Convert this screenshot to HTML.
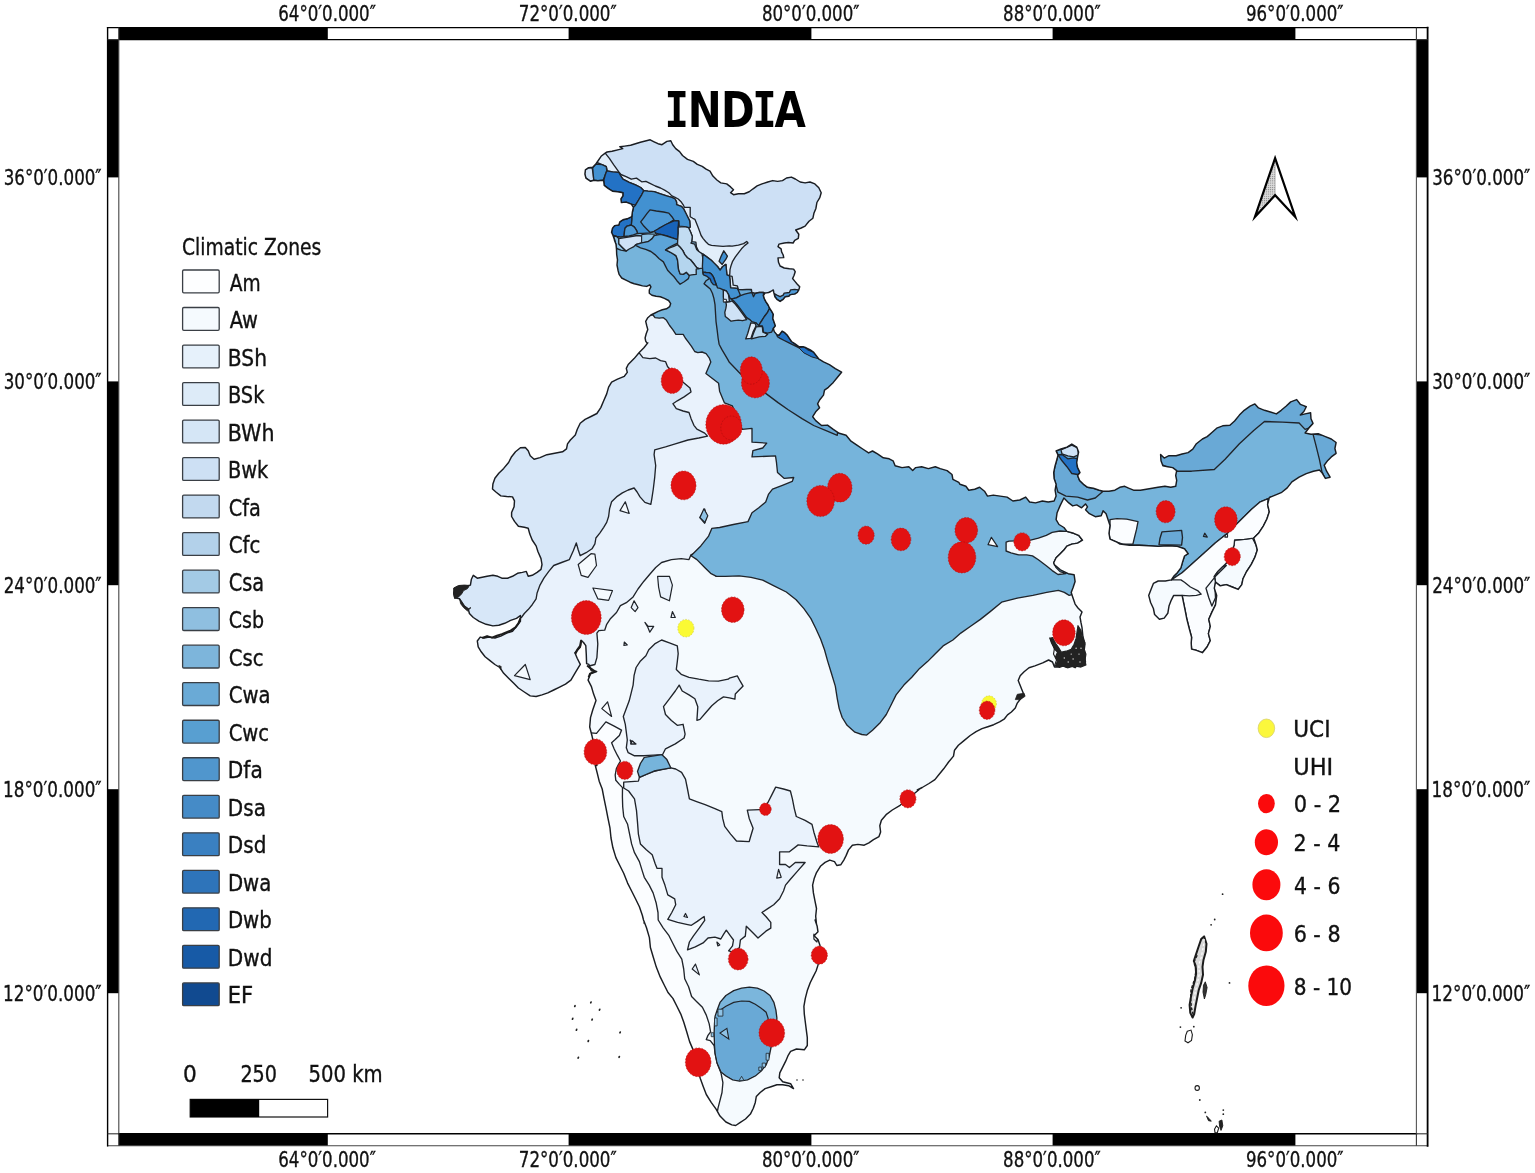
<!DOCTYPE html>
<html lang="en">
<head>
<meta charset="utf-8">
<title>India – Climatic Zones, UHI and UCI</title>
<style>
html,body{margin:0;padding:0;background:#fff;}
body{width:1535px;height:1173px;overflow:hidden;}
svg{display:block;font-family:'DejaVu Sans Condensed','DejaVu Sans','Liberation Sans',sans-serif;}
text{fill:#111;stroke:#111;stroke-width:0.3px;}
</style>
</head>
<body>
<svg width="1535" height="1173" viewBox="0 0 1535 1173">
<rect width="1535" height="1173" fill="#fff"/>
<g id="frame">
<rect x="107.6" y="27.6" width="1320.0" height="1118.2" fill="#fff"/>
<rect x="118.8" y="27.6" width="209.0" height="12.0" fill="#000"/>
<rect x="118.8" y="1133.8" width="209.0" height="12.0" fill="#000"/>
<rect x="568.6" y="27.6" width="242.8" height="12.0" fill="#000"/>
<rect x="568.6" y="1133.8" width="242.8" height="12.0" fill="#000"/>
<rect x="1052.6" y="27.6" width="242.8" height="12.0" fill="#000"/>
<rect x="1052.6" y="1133.8" width="242.8" height="12.0" fill="#000"/>
<rect x="107.6" y="39.6" width="11.2" height="137.8" fill="#000"/>
<rect x="1416.4" y="39.6" width="11.2" height="137.8" fill="#000"/>
<rect x="107.6" y="381.4" width="11.2" height="203.8" fill="#000"/>
<rect x="1416.4" y="381.4" width="11.2" height="203.8" fill="#000"/>
<rect x="107.6" y="789.2" width="11.2" height="204.0" fill="#000"/>
<rect x="1416.4" y="789.2" width="11.2" height="204.0" fill="#000"/>
<line x1="107.6" y1="27.6" x2="1427.6" y2="27.6" stroke="#000" stroke-width="1.4" stroke-linecap="square"/>
<line x1="118.8" y1="39.6" x2="1416.4" y2="39.6" stroke="#000" stroke-width="1.3" stroke-linecap="square"/>
<line x1="118.8" y1="1133.8" x2="1416.4" y2="1133.8" stroke="#000" stroke-width="1.6" stroke-linecap="square"/>
<line x1="107.6" y1="1145.8" x2="1427.6" y2="1145.8" stroke="#444" stroke-width="1.1" stroke-linecap="square"/>
<line x1="107.6" y1="27.6" x2="107.6" y2="1145.8" stroke="#000" stroke-width="1.4" stroke-linecap="square"/>
<line x1="118.8" y1="39.6" x2="118.8" y2="1133.8" stroke="#444" stroke-width="1.1" stroke-linecap="square"/>
<line x1="1416.4" y1="39.6" x2="1416.4" y2="1133.8" stroke="#555" stroke-width="1.1" stroke-linecap="square"/>
<line x1="1427.6" y1="27.6" x2="1427.6" y2="1145.8" stroke="#000" stroke-width="1.8" stroke-linecap="square"/>
<line x1="118.8" y1="27.6" x2="118.8" y2="39.6" stroke="#333" stroke-width="1.1"/>
<line x1="1416.4" y1="27.6" x2="1416.4" y2="39.6" stroke="#333" stroke-width="1.1"/>
<line x1="118.8" y1="1133.8" x2="118.8" y2="1145.8" stroke="#333" stroke-width="1.1"/>
<line x1="1416.4" y1="1133.8" x2="1416.4" y2="1145.8" stroke="#333" stroke-width="1.1"/>
<line x1="107.6" y1="39.6" x2="118.8" y2="39.6" stroke="#333" stroke-width="1.1"/>
<line x1="1416.4" y1="39.6" x2="1427.6" y2="39.6" stroke="#333" stroke-width="1.1"/>
<line x1="107.6" y1="1133.8" x2="118.8" y2="1133.8" stroke="#333" stroke-width="1.1"/>
<line x1="1416.4" y1="1133.8" x2="1427.6" y2="1133.8" stroke="#333" stroke-width="1.1"/>
</g>
<g id="map">
<defs><clipPath id="india"><path d="M588.6,167.7 L592.7,167.2 L595.8,164.1 L596.9,162.5 L601.1,156.3 L605.2,153.1 L607.1,152.0 L612.0,151.2 L618.8,149.6 L622.7,148.6 L619.8,146.7 L624.7,146.1 L630.6,145.3 L635.5,143.7 L640.4,142.2 L646.3,140.8 L650.2,139.8 L654.1,141.8 L658.0,143.7 L662.0,144.7 L666.9,141.4 L670.8,140.8 L672.7,144.7 L675.7,148.6 L679.6,151.6 L682.5,155.5 L687.5,159.4 L693.3,161.4 L697.3,164.3 L702.2,166.3 L706.1,169.2 L710.0,171.2 L712.9,176.1 L716.9,180.0 L720.8,182.9 L726.7,183.9 L730.6,186.9 L733.5,189.8 L730.6,192.7 L733.5,194.7 L738.4,193.7 L744.3,193.7 L749.2,191.8 L753.1,188.8 L757.1,185.9 L762.0,183.9 L767.8,182.0 L772.7,180.6 L777.6,181.4 L782.5,180.6 L786.5,178.0 L791.4,177.1 L795.3,179.0 L800.2,182.0 L805.1,182.9 L810.0,182.0 L814.9,183.9 L818.8,187.8 L821.2,192.7 L819.8,197.6 L816.9,202.5 L815.9,208.4 L813.9,213.3 L812.9,218.2 L809.0,221.2 L805.1,226.1 L801.2,228.0 L795.7,230.0 L798.8,234.2 L798.3,238.3 L794.7,240.4 L793.1,243.0 L788.4,242.5 L784.2,243.0 L779.0,244.1 L778.0,246.7 L781.1,248.8 L781.6,251.9 L783.2,255.0 L783.7,257.6 L778.0,257.9 L778.5,262.3 L780.1,266.0 L784.2,268.0 L789.4,268.8 L793.6,269.1 L795.2,271.7 L794.1,275.3 L792.6,278.5 L794.7,281.1 L797.3,284.2 L799.7,286.8 L798.8,289.9 L797.3,292.5 L794.7,294.1 L790.5,294.6 L788.9,296.2 L785.3,296.7 L783.2,299.3 L780.1,301.4 L776.9,299.3 L774.9,296.7 L773.8,292.5 L773.3,289.9 L770.7,291.5 L768.6,292.5 L764.9,293.1 L763.4,295.7 L764.4,298.8 L766.0,301.9 L768.1,305.0 L769.6,308.2 L771.7,311.3 L773.3,314.4 L772.8,318.6 L774.3,322.8 L775.4,325.9 L773.3,328.5 L774.3,331.6 L776.9,334.8 L779.0,335.3 L782.1,331.1 L784.8,332.7 L787.4,335.3 L789.4,338.4 L791.5,341.5 L794.7,343.6 L798.8,346.7 L803.0,346.7 L806.1,347.8 L810.3,349.9 L813.4,352.0 L818.6,358.8 L823.5,361.8 L829.4,364.7 L835.3,368.6 L841.6,372.2 L837.3,377.5 L833.3,382.4 L828.4,387.3 L824.5,390.2 L823.5,395.1 L819.6,400.0 L817.6,403.9 L819.6,407.8 L815.7,411.8 L812.7,416.7 L815.7,420.6 L821.6,425.5 L827.5,425.1 L833.3,429.4 L839.2,433.3 L846.1,435.3 L851.0,441.2 L856.9,445.1 L862.7,449.0 L868.6,452.9 L872.5,451.0 L877.5,453.9 L883.3,457.8 L889.2,458.8 L893.1,460.8 L895.1,465.7 L902.0,467.6 L908.8,466.7 L912.7,470.6 L915.7,467.6 L921.6,466.7 L928.4,468.6 L935.3,466.7 L940.2,468.6 L947.1,470.6 L952.0,474.5 L952.9,479.4 L958.8,482.4 L960.0,484.3 L965.9,486.3 L968.8,490.2 L974.7,489.2 L979.6,487.3 L984.5,491.2 L987.5,496.1 L993.3,495.1 L1000.2,496.1 L1007.1,497.1 L1012.9,501.0 L1019.8,500.0 L1025.7,497.1 L1029.6,502.0 L1035.5,502.9 L1042.4,501.0 L1048.2,502.0 L1054.1,501.0 L1056.1,496.1 L1055.1,490.2 L1056.1,484.3 L1054.1,478.4 L1053.7,472.5 L1055.1,465.7 L1057.1,458.8 L1058.0,454.9 L1056.1,451.0 L1061.0,449.0 L1066.9,447.1 L1071.8,444.1 L1076.7,447.1 L1078.6,452.0 L1077.6,456.9 L1076.7,462.7 L1077.6,467.6 L1080.0,472.5 L1077.6,475.5 L1079.6,480.4 L1083.5,484.3 L1087.5,487.3 L1093.3,488.2 L1099.2,490.2 L1103.1,491.2 L1109.0,491.2 L1114.9,490.2 L1119.8,487.3 L1124.7,486.3 L1128.6,488.2 L1133.5,490.2 L1140.4,490.2 L1146.3,489.2 L1152.2,488.2 L1158.0,487.3 L1164.9,486.3 L1170.8,487.3 L1175.7,486.3 L1176.7,480.4 L1175.7,475.5 L1176.7,470.6 L1172.7,467.6 L1167.8,466.7 L1162.9,465.7 L1161.0,460.8 L1160.6,454.5 L1164.2,458.1 L1169.0,455.7 L1176.1,455.7 L1182.1,454.0 L1188.1,452.6 L1192.8,449.2 L1196.4,443.7 L1202.4,439.0 L1207.2,436.6 L1211.9,432.5 L1216.7,428.2 L1222.7,425.8 L1229.9,425.3 L1234.6,421.0 L1239.4,415.1 L1244.2,410.3 L1250.1,406.2 L1254.9,403.9 L1258.5,407.9 L1264.5,410.3 L1270.4,412.0 L1276.4,413.9 L1281.2,410.3 L1286.0,406.2 L1290.7,401.9 L1296.7,399.6 L1300.3,404.3 L1306.3,406.7 L1303.9,411.5 L1300.3,415.1 L1305.1,413.9 L1310.6,412.7 L1311.0,418.7 L1313.0,423.4 L1308.7,428.2 L1305.1,433.0 L1311.0,434.2 L1318.2,433.7 L1325.4,436.6 L1331.3,439.0 L1336.1,442.5 L1334.9,448.5 L1336.1,453.3 L1331.3,456.9 L1327.8,460.4 L1324.2,465.2 L1326.6,471.2 L1330.1,477.2 L1325.4,478.4 L1321.8,472.4 L1319.4,470.0 L1313.4,471.2 L1306.3,473.6 L1299.1,477.2 L1291.9,481.9 L1287.2,487.9 L1281.2,492.7 L1275.2,495.1 L1269.3,497.5 L1267.6,504.6 L1269.3,511.8 L1266.9,519.0 L1263.3,526.1 L1258.5,533.3 L1253.7,538.1 L1256.1,545.2 L1257.3,550.0 L1254.9,557.2 L1251.3,564.3 L1246.6,571.5 L1243.0,578.7 L1241.8,584.6 L1238.2,589.4 L1232.2,587.0 L1226.3,584.6 L1220.3,585.8 L1215.5,582.2 L1214.3,588.2 L1216.7,595.4 L1215.5,604.9 L1211.9,612.1 L1208.8,619.3 L1210.3,626.4 L1208.4,633.6 L1210.3,640.7 L1207.2,646.7 L1202.4,652.7 L1196.4,650.3 L1191.6,649.1 L1191.2,643.1 L1191.6,637.2 L1189.3,628.8 L1186.9,619.3 L1185.0,609.7 L1183.3,601.3 L1182.1,595.4 L1173.7,595.4 L1171.3,600.1 L1169.0,606.1 L1167.8,613.3 L1164.2,618.1 L1159.4,619.3 L1154.6,614.5 L1153.4,608.5 L1150.6,602.5 L1148.7,595.4 L1151.0,589.4 L1153.4,583.4 L1158.2,581.0 L1165.4,581.0 L1171.3,579.9 L1173.7,576.3 L1177.3,572.7 L1180.9,567.9 L1182.6,561.9 L1184.5,556.0 L1188.1,553.6 L1184.5,548.8 L1177.3,546.4 L1167.8,545.7 L1158.2,546.4 L1148.7,545.7 L1139.1,545.2 L1129.6,545.2 L1120.0,544.0 L1116.9,542.2 L1110.0,539.2 L1109.0,533.3 L1110.0,525.5 L1108.0,519.6 L1106.1,513.7 L1103.1,510.8 L1101.2,515.7 L1095.3,516.7 L1089.4,513.7 L1085.5,509.8 L1087.5,506.9 L1085.5,503.9 L1081.6,507.8 L1076.7,504.9 L1072.7,505.9 L1068.8,502.9 L1063.9,498.0 L1060.0,505.9 L1057.1,512.7 L1056.1,519.6 L1059.0,524.5 L1063.9,527.5 L1066.9,531.4 L1073.7,533.3 L1078.6,535.3 L1082.5,540.2 L1077.6,543.1 L1071.8,544.1 L1066.9,546.1 L1063.9,550.0 L1060.0,553.9 L1056.1,557.8 L1053.7,562.7 L1054.5,564.9 L1060.4,569.8 L1068.2,573.7 L1074.1,574.7 L1075.1,581.6 L1073.1,587.5 L1071.2,592.4 L1073.1,598.2 L1075.1,604.1 L1078.0,608.0 L1082.0,612.0 L1080.0,616.9 L1081.0,622.7 L1082.0,627.6 L1082.9,636.5 L1084.9,644.3 L1083.9,652.2 L1085.5,662.0 L1080.0,666.9 L1074.1,665.9 L1068.2,667.5 L1062.4,665.9 L1057.5,666.9 L1054.5,666.9 L1052.5,662.0 L1048.6,660.0 L1042.7,662.9 L1034.9,665.9 L1029.0,667.8 L1024.1,671.8 L1020.2,675.7 L1018.2,680.6 L1020.2,685.5 L1022.2,690.4 L1024.1,695.3 L1020.2,699.2 L1017.3,703.1 L1015.3,708.0 L1011.4,712.0 L1007.5,714.9 L1004.5,718.8 L999.6,721.8 L993.7,724.7 L987.8,726.7 L982.0,728.6 L976.1,731.6 L970.2,735.5 L964.3,740.4 L958.4,745.3 L954.5,750.2 L953.5,756.1 L948.6,762.0 L943.7,768.8 L938.8,774.7 L934.9,779.6 L929.0,783.5 L922.2,787.5 L917.3,790.0 L918.9,789.7 L909.5,797.5 L900.1,805.3 L892.3,810.0 L886.1,814.7 L881.4,820.2 L879.8,825.7 L880.6,831.9 L879.0,836.6 L873.5,839.7 L868.9,842.9 L864.2,845.2 L857.9,844.4 L852.4,845.2 L848.5,849.9 L846.2,855.4 L843.8,860.1 L840.7,864.8 L836.8,865.5 L834.5,861.6 L829.8,860.1 L825.1,862.4 L820.4,866.3 L816.5,872.6 L814.1,878.8 L812.6,885.1 L813.4,892.9 L814.9,900.7 L816.5,908.5 L815.7,916.3 L816.5,924.2 L815.1,920.0 L817.1,925.9 L818.0,931.8 L814.1,935.7 L818.0,939.6 L820.0,945.5 L819.6,955.3 L818.0,965.1 L816.1,971.0 L813.1,976.9 L810.2,982.7 L807.3,990.6 L805.3,998.4 L803.9,1006.3 L804.3,1014.1 L805.3,1022.0 L806.3,1029.8 L807.3,1037.6 L807.3,1045.5 L804.3,1049.8 L796.5,1049.0 L790.6,1051.4 L788.2,1055.3 L785.7,1061.2 L782.7,1067.1 L779.8,1072.9 L779.2,1077.8 L782.7,1081.8 L790.6,1083.7 L793.5,1088.6 L788.6,1085.7 L782.7,1084.7 L776.9,1084.7 L771.0,1086.7 L765.1,1088.6 L760.2,1092.5 L756.3,1096.5 L755.3,1102.4 L753.3,1108.2 L750.4,1114.1 L745.5,1119.0 L739.6,1122.9 L735.7,1125.5 L731.8,1124.9 L725.9,1122.0 L720.0,1116.1 L716.1,1109.2 L711.2,1102.4 L706.3,1094.5 L703.3,1086.7 L700.4,1078.8 L697.5,1069.0 L694.9,1058.2 L692.5,1048.4 L689.6,1041.6 L686.7,1031.8 L683.7,1022.0 L680.8,1014.1 L676.9,1006.3 L672.9,998.4 L668.0,992.5 L664.1,984.7 L660.2,976.9 L656.3,967.1 L653.3,957.3 L650.4,947.5 L649.4,937.6 L646.5,927.8 L643.5,920.0 L642.4,915.5 L639.4,906.7 L635.5,898.8 L631.6,891.0 L627.6,883.1 L623.7,873.3 L619.8,865.5 L615.9,857.6 L612.9,847.8 L611.0,838.0 L610.0,828.2 L608.0,818.4 L606.1,808.6 L604.1,798.8 L602.2,789.0 L599.2,781.2 L597.3,773.3 L595.3,765.5 L596.9,765.5 L594.9,752.7 L592.9,740.0 L592.1,736.3 L589.7,727.0 L590.5,717.6 L592.8,709.8 L596.0,700.4 L593.6,694.1 L591.3,686.3 L588.1,680.1 L590.5,673.8 L596.7,671.5 L591.3,670.7 L588.9,664.4 L586.6,663.6 L586.3,655.0 L585.8,645.7 L583.5,642.5 L581.1,640.2 L580.3,647.2 L574.9,652.7 L577.2,658.2 L580.3,664.4 L575.6,672.2 L570.9,680.1 L565.5,684.1 L559.6,687.1 L553.7,690.0 L547.8,692.9 L542.0,694.9 L536.1,696.5 L530.2,695.9 L524.3,692.0 L518.4,688.0 L513.5,683.1 L508.6,678.2 L503.7,673.3 L499.8,667.5 L494.9,664.5 L490.0,660.6 L485.1,656.7 L481.2,651.8 L478.2,646.9 L477.3,641.0 L480.2,637.1 L484.1,638.0 L489.0,637.1 L494.9,638.0 L500.8,636.1 L506.7,633.1 L512.5,631.2 L516.5,626.3 L520.4,621.4 L520.4,615.5 L516.5,618.4 L510.6,620.4 L504.7,623.3 L498.8,625.3 L492.9,625.9 L486.1,624.3 L479.2,621.4 L473.3,617.5 L469.4,613.5 L468.4,609.6 L464.5,606.7 L461.6,602.7 L459.6,598.8 L454.7,597.8 L453.7,592.9 L455.7,588.0 L459.6,586.1 L465.5,586.1 L470.4,585.1 L471.4,579.2 L473.3,575.3 L477.3,578.2 L482.2,577.3 L487.1,576.3 L492.9,575.3 L497.8,576.3 L501.8,578.2 L507.6,578.2 L512.5,576.3 L517.5,573.3 L522.4,572.4 L526.3,571.4 L528.2,576.3 L532.2,575.3 L537.1,572.4 L541.0,569.4 L542.0,564.5 L541.0,558.6 L538.0,551.8 L536.1,545.9 L532.2,540.0 L532.2,540.0 L529.8,534.1 L528.2,528.2 L524.3,527.3 L518.4,526.3 L514.5,521.4 L511.6,516.5 L511.6,512.5 L514.1,506.7 L514.5,500.8 L512.5,496.9 L506.7,496.5 L500.8,495.9 L495.9,492.0 L492.5,489.0 L492.9,484.1 L494.9,478.2 L498.8,473.3 L503.7,468.4 L508.6,462.5 L511.6,456.7 L515.5,451.8 L520.4,447.8 L525.3,447.5 L528.2,450.8 L530.2,455.7 L534.1,459.2 L540.0,457.6 L546.9,454.7 L554.7,453.3 L562.5,451.8 L566.5,448.8 L567.5,443.9 L570.4,440.0 L575.3,435.1 L577.3,429.2 L580.2,423.3 L585.1,419.4 L591.0,416.5 L596.9,413.5 L600.8,407.6 L603.7,400.8 L606.7,393.9 L608.6,387.1 L611.6,382.2 L617.5,379.2 L624.3,376.3 L627.3,372.4 L626.3,368.4 L628.2,364.5 L634.1,358.6 L639.0,352.7 L643.9,347.8 L647.8,342.9 L646.7,342.7 L645.7,341.1 L645.1,338.0 L646.2,333.8 L647.8,329.6 L646.7,325.5 L645.7,321.3 L647.8,317.7 L650.9,315.0 L654.0,313.5 L658.2,311.4 L662.3,309.8 L666.5,308.8 L669.6,306.7 L670.7,303.6 L668.6,300.5 L664.4,298.4 L660.3,296.8 L656.1,296.3 L651.9,295.2 L649.3,293.2 L649.3,290.0 L650.9,286.9 L649.8,284.8 L646.7,286.4 L642.5,285.9 L638.4,284.8 L634.2,283.8 L630.0,282.2 L625.9,280.1 L621.7,278.0 L619.1,274.4 L618.0,270.2 L617.0,265.0 L617.5,259.8 L616.7,254.6 L616.5,249.4 L616.0,244.2 L614.4,240.0 L614.4,239.6 L613.0,235.5 L611.5,232.3 L612.5,228.2 L614.6,225.6 L618.8,225.0 L619.8,221.9 L622.9,219.8 L627.1,218.8 L631.8,216.7 L632.3,212.5 L633.4,207.3 L631.3,204.2 L626.1,202.1 L621.4,202.6 L620.9,199.0 L622.9,195.9 L622.9,192.7 L617.7,191.7 L612.5,191.2 L608.4,188.6 L604.2,185.4 L603.7,180.7 L603.1,180.2 L597.9,180.7 L593.8,180.2 L590.6,181.3 L585.9,178.1 L584.9,174.0 L585.4,169.8Z"/></clipPath></defs>
<path d="M588.6,167.7 L592.7,167.2 L595.8,164.1 L596.9,162.5 L601.1,156.3 L605.2,153.1 L607.1,152.0 L612.0,151.2 L618.8,149.6 L622.7,148.6 L619.8,146.7 L624.7,146.1 L630.6,145.3 L635.5,143.7 L640.4,142.2 L646.3,140.8 L650.2,139.8 L654.1,141.8 L658.0,143.7 L662.0,144.7 L666.9,141.4 L670.8,140.8 L672.7,144.7 L675.7,148.6 L679.6,151.6 L682.5,155.5 L687.5,159.4 L693.3,161.4 L697.3,164.3 L702.2,166.3 L706.1,169.2 L710.0,171.2 L712.9,176.1 L716.9,180.0 L720.8,182.9 L726.7,183.9 L730.6,186.9 L733.5,189.8 L730.6,192.7 L733.5,194.7 L738.4,193.7 L744.3,193.7 L749.2,191.8 L753.1,188.8 L757.1,185.9 L762.0,183.9 L767.8,182.0 L772.7,180.6 L777.6,181.4 L782.5,180.6 L786.5,178.0 L791.4,177.1 L795.3,179.0 L800.2,182.0 L805.1,182.9 L810.0,182.0 L814.9,183.9 L818.8,187.8 L821.2,192.7 L819.8,197.6 L816.9,202.5 L815.9,208.4 L813.9,213.3 L812.9,218.2 L809.0,221.2 L805.1,226.1 L801.2,228.0 L795.7,230.0 L798.8,234.2 L798.3,238.3 L794.7,240.4 L793.1,243.0 L788.4,242.5 L784.2,243.0 L779.0,244.1 L778.0,246.7 L781.1,248.8 L781.6,251.9 L783.2,255.0 L783.7,257.6 L778.0,257.9 L778.5,262.3 L780.1,266.0 L784.2,268.0 L789.4,268.8 L793.6,269.1 L795.2,271.7 L794.1,275.3 L792.6,278.5 L794.7,281.1 L797.3,284.2 L799.7,286.8 L798.8,289.9 L797.3,292.5 L794.7,294.1 L790.5,294.6 L788.9,296.2 L785.3,296.7 L783.2,299.3 L780.1,301.4 L776.9,299.3 L774.9,296.7 L773.8,292.5 L773.3,289.9 L770.7,291.5 L768.6,292.5 L764.9,293.1 L763.4,295.7 L764.4,298.8 L766.0,301.9 L768.1,305.0 L769.6,308.2 L771.7,311.3 L773.3,314.4 L772.8,318.6 L774.3,322.8 L775.4,325.9 L773.3,328.5 L774.3,331.6 L776.9,334.8 L779.0,335.3 L782.1,331.1 L784.8,332.7 L787.4,335.3 L789.4,338.4 L791.5,341.5 L794.7,343.6 L798.8,346.7 L803.0,346.7 L806.1,347.8 L810.3,349.9 L813.4,352.0 L818.6,358.8 L823.5,361.8 L829.4,364.7 L835.3,368.6 L841.6,372.2 L837.3,377.5 L833.3,382.4 L828.4,387.3 L824.5,390.2 L823.5,395.1 L819.6,400.0 L817.6,403.9 L819.6,407.8 L815.7,411.8 L812.7,416.7 L815.7,420.6 L821.6,425.5 L827.5,425.1 L833.3,429.4 L839.2,433.3 L846.1,435.3 L851.0,441.2 L856.9,445.1 L862.7,449.0 L868.6,452.9 L872.5,451.0 L877.5,453.9 L883.3,457.8 L889.2,458.8 L893.1,460.8 L895.1,465.7 L902.0,467.6 L908.8,466.7 L912.7,470.6 L915.7,467.6 L921.6,466.7 L928.4,468.6 L935.3,466.7 L940.2,468.6 L947.1,470.6 L952.0,474.5 L952.9,479.4 L958.8,482.4 L960.0,484.3 L965.9,486.3 L968.8,490.2 L974.7,489.2 L979.6,487.3 L984.5,491.2 L987.5,496.1 L993.3,495.1 L1000.2,496.1 L1007.1,497.1 L1012.9,501.0 L1019.8,500.0 L1025.7,497.1 L1029.6,502.0 L1035.5,502.9 L1042.4,501.0 L1048.2,502.0 L1054.1,501.0 L1056.1,496.1 L1055.1,490.2 L1056.1,484.3 L1054.1,478.4 L1053.7,472.5 L1055.1,465.7 L1057.1,458.8 L1058.0,454.9 L1056.1,451.0 L1061.0,449.0 L1066.9,447.1 L1071.8,444.1 L1076.7,447.1 L1078.6,452.0 L1077.6,456.9 L1076.7,462.7 L1077.6,467.6 L1080.0,472.5 L1077.6,475.5 L1079.6,480.4 L1083.5,484.3 L1087.5,487.3 L1093.3,488.2 L1099.2,490.2 L1103.1,491.2 L1109.0,491.2 L1114.9,490.2 L1119.8,487.3 L1124.7,486.3 L1128.6,488.2 L1133.5,490.2 L1140.4,490.2 L1146.3,489.2 L1152.2,488.2 L1158.0,487.3 L1164.9,486.3 L1170.8,487.3 L1175.7,486.3 L1176.7,480.4 L1175.7,475.5 L1176.7,470.6 L1172.7,467.6 L1167.8,466.7 L1162.9,465.7 L1161.0,460.8 L1160.6,454.5 L1164.2,458.1 L1169.0,455.7 L1176.1,455.7 L1182.1,454.0 L1188.1,452.6 L1192.8,449.2 L1196.4,443.7 L1202.4,439.0 L1207.2,436.6 L1211.9,432.5 L1216.7,428.2 L1222.7,425.8 L1229.9,425.3 L1234.6,421.0 L1239.4,415.1 L1244.2,410.3 L1250.1,406.2 L1254.9,403.9 L1258.5,407.9 L1264.5,410.3 L1270.4,412.0 L1276.4,413.9 L1281.2,410.3 L1286.0,406.2 L1290.7,401.9 L1296.7,399.6 L1300.3,404.3 L1306.3,406.7 L1303.9,411.5 L1300.3,415.1 L1305.1,413.9 L1310.6,412.7 L1311.0,418.7 L1313.0,423.4 L1308.7,428.2 L1305.1,433.0 L1311.0,434.2 L1318.2,433.7 L1325.4,436.6 L1331.3,439.0 L1336.1,442.5 L1334.9,448.5 L1336.1,453.3 L1331.3,456.9 L1327.8,460.4 L1324.2,465.2 L1326.6,471.2 L1330.1,477.2 L1325.4,478.4 L1321.8,472.4 L1319.4,470.0 L1313.4,471.2 L1306.3,473.6 L1299.1,477.2 L1291.9,481.9 L1287.2,487.9 L1281.2,492.7 L1275.2,495.1 L1269.3,497.5 L1267.6,504.6 L1269.3,511.8 L1266.9,519.0 L1263.3,526.1 L1258.5,533.3 L1253.7,538.1 L1256.1,545.2 L1257.3,550.0 L1254.9,557.2 L1251.3,564.3 L1246.6,571.5 L1243.0,578.7 L1241.8,584.6 L1238.2,589.4 L1232.2,587.0 L1226.3,584.6 L1220.3,585.8 L1215.5,582.2 L1214.3,588.2 L1216.7,595.4 L1215.5,604.9 L1211.9,612.1 L1208.8,619.3 L1210.3,626.4 L1208.4,633.6 L1210.3,640.7 L1207.2,646.7 L1202.4,652.7 L1196.4,650.3 L1191.6,649.1 L1191.2,643.1 L1191.6,637.2 L1189.3,628.8 L1186.9,619.3 L1185.0,609.7 L1183.3,601.3 L1182.1,595.4 L1173.7,595.4 L1171.3,600.1 L1169.0,606.1 L1167.8,613.3 L1164.2,618.1 L1159.4,619.3 L1154.6,614.5 L1153.4,608.5 L1150.6,602.5 L1148.7,595.4 L1151.0,589.4 L1153.4,583.4 L1158.2,581.0 L1165.4,581.0 L1171.3,579.9 L1173.7,576.3 L1177.3,572.7 L1180.9,567.9 L1182.6,561.9 L1184.5,556.0 L1188.1,553.6 L1184.5,548.8 L1177.3,546.4 L1167.8,545.7 L1158.2,546.4 L1148.7,545.7 L1139.1,545.2 L1129.6,545.2 L1120.0,544.0 L1116.9,542.2 L1110.0,539.2 L1109.0,533.3 L1110.0,525.5 L1108.0,519.6 L1106.1,513.7 L1103.1,510.8 L1101.2,515.7 L1095.3,516.7 L1089.4,513.7 L1085.5,509.8 L1087.5,506.9 L1085.5,503.9 L1081.6,507.8 L1076.7,504.9 L1072.7,505.9 L1068.8,502.9 L1063.9,498.0 L1060.0,505.9 L1057.1,512.7 L1056.1,519.6 L1059.0,524.5 L1063.9,527.5 L1066.9,531.4 L1073.7,533.3 L1078.6,535.3 L1082.5,540.2 L1077.6,543.1 L1071.8,544.1 L1066.9,546.1 L1063.9,550.0 L1060.0,553.9 L1056.1,557.8 L1053.7,562.7 L1054.5,564.9 L1060.4,569.8 L1068.2,573.7 L1074.1,574.7 L1075.1,581.6 L1073.1,587.5 L1071.2,592.4 L1073.1,598.2 L1075.1,604.1 L1078.0,608.0 L1082.0,612.0 L1080.0,616.9 L1081.0,622.7 L1082.0,627.6 L1082.9,636.5 L1084.9,644.3 L1083.9,652.2 L1085.5,662.0 L1080.0,666.9 L1074.1,665.9 L1068.2,667.5 L1062.4,665.9 L1057.5,666.9 L1054.5,666.9 L1052.5,662.0 L1048.6,660.0 L1042.7,662.9 L1034.9,665.9 L1029.0,667.8 L1024.1,671.8 L1020.2,675.7 L1018.2,680.6 L1020.2,685.5 L1022.2,690.4 L1024.1,695.3 L1020.2,699.2 L1017.3,703.1 L1015.3,708.0 L1011.4,712.0 L1007.5,714.9 L1004.5,718.8 L999.6,721.8 L993.7,724.7 L987.8,726.7 L982.0,728.6 L976.1,731.6 L970.2,735.5 L964.3,740.4 L958.4,745.3 L954.5,750.2 L953.5,756.1 L948.6,762.0 L943.7,768.8 L938.8,774.7 L934.9,779.6 L929.0,783.5 L922.2,787.5 L917.3,790.0 L918.9,789.7 L909.5,797.5 L900.1,805.3 L892.3,810.0 L886.1,814.7 L881.4,820.2 L879.8,825.7 L880.6,831.9 L879.0,836.6 L873.5,839.7 L868.9,842.9 L864.2,845.2 L857.9,844.4 L852.4,845.2 L848.5,849.9 L846.2,855.4 L843.8,860.1 L840.7,864.8 L836.8,865.5 L834.5,861.6 L829.8,860.1 L825.1,862.4 L820.4,866.3 L816.5,872.6 L814.1,878.8 L812.6,885.1 L813.4,892.9 L814.9,900.7 L816.5,908.5 L815.7,916.3 L816.5,924.2 L815.1,920.0 L817.1,925.9 L818.0,931.8 L814.1,935.7 L818.0,939.6 L820.0,945.5 L819.6,955.3 L818.0,965.1 L816.1,971.0 L813.1,976.9 L810.2,982.7 L807.3,990.6 L805.3,998.4 L803.9,1006.3 L804.3,1014.1 L805.3,1022.0 L806.3,1029.8 L807.3,1037.6 L807.3,1045.5 L804.3,1049.8 L796.5,1049.0 L790.6,1051.4 L788.2,1055.3 L785.7,1061.2 L782.7,1067.1 L779.8,1072.9 L779.2,1077.8 L782.7,1081.8 L790.6,1083.7 L793.5,1088.6 L788.6,1085.7 L782.7,1084.7 L776.9,1084.7 L771.0,1086.7 L765.1,1088.6 L760.2,1092.5 L756.3,1096.5 L755.3,1102.4 L753.3,1108.2 L750.4,1114.1 L745.5,1119.0 L739.6,1122.9 L735.7,1125.5 L731.8,1124.9 L725.9,1122.0 L720.0,1116.1 L716.1,1109.2 L711.2,1102.4 L706.3,1094.5 L703.3,1086.7 L700.4,1078.8 L697.5,1069.0 L694.9,1058.2 L692.5,1048.4 L689.6,1041.6 L686.7,1031.8 L683.7,1022.0 L680.8,1014.1 L676.9,1006.3 L672.9,998.4 L668.0,992.5 L664.1,984.7 L660.2,976.9 L656.3,967.1 L653.3,957.3 L650.4,947.5 L649.4,937.6 L646.5,927.8 L643.5,920.0 L642.4,915.5 L639.4,906.7 L635.5,898.8 L631.6,891.0 L627.6,883.1 L623.7,873.3 L619.8,865.5 L615.9,857.6 L612.9,847.8 L611.0,838.0 L610.0,828.2 L608.0,818.4 L606.1,808.6 L604.1,798.8 L602.2,789.0 L599.2,781.2 L597.3,773.3 L595.3,765.5 L596.9,765.5 L594.9,752.7 L592.9,740.0 L592.1,736.3 L589.7,727.0 L590.5,717.6 L592.8,709.8 L596.0,700.4 L593.6,694.1 L591.3,686.3 L588.1,680.1 L590.5,673.8 L596.7,671.5 L591.3,670.7 L588.9,664.4 L586.6,663.6 L586.3,655.0 L585.8,645.7 L583.5,642.5 L581.1,640.2 L580.3,647.2 L574.9,652.7 L577.2,658.2 L580.3,664.4 L575.6,672.2 L570.9,680.1 L565.5,684.1 L559.6,687.1 L553.7,690.0 L547.8,692.9 L542.0,694.9 L536.1,696.5 L530.2,695.9 L524.3,692.0 L518.4,688.0 L513.5,683.1 L508.6,678.2 L503.7,673.3 L499.8,667.5 L494.9,664.5 L490.0,660.6 L485.1,656.7 L481.2,651.8 L478.2,646.9 L477.3,641.0 L480.2,637.1 L484.1,638.0 L489.0,637.1 L494.9,638.0 L500.8,636.1 L506.7,633.1 L512.5,631.2 L516.5,626.3 L520.4,621.4 L520.4,615.5 L516.5,618.4 L510.6,620.4 L504.7,623.3 L498.8,625.3 L492.9,625.9 L486.1,624.3 L479.2,621.4 L473.3,617.5 L469.4,613.5 L468.4,609.6 L464.5,606.7 L461.6,602.7 L459.6,598.8 L454.7,597.8 L453.7,592.9 L455.7,588.0 L459.6,586.1 L465.5,586.1 L470.4,585.1 L471.4,579.2 L473.3,575.3 L477.3,578.2 L482.2,577.3 L487.1,576.3 L492.9,575.3 L497.8,576.3 L501.8,578.2 L507.6,578.2 L512.5,576.3 L517.5,573.3 L522.4,572.4 L526.3,571.4 L528.2,576.3 L532.2,575.3 L537.1,572.4 L541.0,569.4 L542.0,564.5 L541.0,558.6 L538.0,551.8 L536.1,545.9 L532.2,540.0 L532.2,540.0 L529.8,534.1 L528.2,528.2 L524.3,527.3 L518.4,526.3 L514.5,521.4 L511.6,516.5 L511.6,512.5 L514.1,506.7 L514.5,500.8 L512.5,496.9 L506.7,496.5 L500.8,495.9 L495.9,492.0 L492.5,489.0 L492.9,484.1 L494.9,478.2 L498.8,473.3 L503.7,468.4 L508.6,462.5 L511.6,456.7 L515.5,451.8 L520.4,447.8 L525.3,447.5 L528.2,450.8 L530.2,455.7 L534.1,459.2 L540.0,457.6 L546.9,454.7 L554.7,453.3 L562.5,451.8 L566.5,448.8 L567.5,443.9 L570.4,440.0 L575.3,435.1 L577.3,429.2 L580.2,423.3 L585.1,419.4 L591.0,416.5 L596.9,413.5 L600.8,407.6 L603.7,400.8 L606.7,393.9 L608.6,387.1 L611.6,382.2 L617.5,379.2 L624.3,376.3 L627.3,372.4 L626.3,368.4 L628.2,364.5 L634.1,358.6 L639.0,352.7 L643.9,347.8 L647.8,342.9 L646.7,342.7 L645.7,341.1 L645.1,338.0 L646.2,333.8 L647.8,329.6 L646.7,325.5 L645.7,321.3 L647.8,317.7 L650.9,315.0 L654.0,313.5 L658.2,311.4 L662.3,309.8 L666.5,308.8 L669.6,306.7 L670.7,303.6 L668.6,300.5 L664.4,298.4 L660.3,296.8 L656.1,296.3 L651.9,295.2 L649.3,293.2 L649.3,290.0 L650.9,286.9 L649.8,284.8 L646.7,286.4 L642.5,285.9 L638.4,284.8 L634.2,283.8 L630.0,282.2 L625.9,280.1 L621.7,278.0 L619.1,274.4 L618.0,270.2 L617.0,265.0 L617.5,259.8 L616.7,254.6 L616.5,249.4 L616.0,244.2 L614.4,240.0 L614.4,239.6 L613.0,235.5 L611.5,232.3 L612.5,228.2 L614.6,225.6 L618.8,225.0 L619.8,221.9 L622.9,219.8 L627.1,218.8 L631.8,216.7 L632.3,212.5 L633.4,207.3 L631.3,204.2 L626.1,202.1 L621.4,202.6 L620.9,199.0 L622.9,195.9 L622.9,192.7 L617.7,191.7 L612.5,191.2 L608.4,188.6 L604.2,185.4 L603.7,180.7 L603.1,180.2 L597.9,180.7 L593.8,180.2 L590.6,181.3 L585.9,178.1 L584.9,174.0 L585.4,169.8Z" fill="#f5fafe"/>
<g clip-path="url(#india)">
<path d="M691.0,554.7 L689.0,559.6 L681.2,558.6 L671.4,559.6 L661.6,562.5 L655.7,567.5 L649.8,574.3 L643.9,581.2 L638.0,589.0 L633.1,596.9 L626.3,602.7 L620.4,605.7 L616.5,612.5 L610.6,618.4 L606.7,624.3 L604.7,630.2 L598.8,630.6 L596.9,633.1 L597.8,643.9 L596.9,657.6 L594.9,664.5 L587.1,666.5 L577.3,677.3 L557.6,700.8 L440.0,700.8 L440.0,540.0 L440.0,300.0 L900.0,300.0 L900.0,500.0Z" fill="#e9f2fc" stroke="#20242a" stroke-width="1.35" stroke-linejoin="round"/>
<path d="M639.0,352.7 L642.9,357.6 L649.8,358.6 L655.7,358.0 L660.6,360.6 L665.5,361.6 L667.5,366.5 L675.3,375.3 L683.1,382.2 L690.0,388.0 L691.0,392.0 L684.1,396.9 L677.3,400.8 L672.9,403.7 L676.3,408.6 L683.1,411.0 L689.0,412.5 L691.0,418.4 L693.9,425.3 L696.9,429.2 L704.7,433.1 L707.6,436.1 L698.8,438.0 L688.0,440.0 L675.3,443.9 L665.5,446.9 L654.7,449.8 L654.1,454.7 L655.7,465.5 L654.7,477.3 L653.3,489.0 L651.8,498.8 L650.8,504.3 L644.9,502.4 L640.0,496.9 L637.1,492.0 L634.1,488.0 L628.2,490.0 L622.4,492.9 L616.5,496.9 L611.6,501.8 L609.6,508.6 L608.6,516.5 L606.7,522.4 L603.7,527.3 L599.8,533.1 L595.9,538.0 L594.9,543.9 L592.0,548.8 L586.1,552.7 L580.2,555.7 L578.2,549.8 L576.3,542.9 L573.3,550.8 L569.4,559.6 L561.6,562.5 L553.7,565.5 L548.8,571.4 L543.9,578.2 L540.0,585.1 L537.1,592.9 L536.1,598.8 L532.2,604.7 L528.2,609.6 L524.3,613.5 L521.4,617.5 L498.8,632.2 L440.0,632.2 L400.0,300.0 L600.0,300.0Z" fill="#d7e7f8" stroke="#20242a" stroke-width="1.35" stroke-linejoin="round"/>
<path d="M661.6,640.0 L669.4,642.9 L677.3,645.9 L678.2,653.7 L677.3,661.6 L676.3,669.4 L681.2,674.3 L689.0,677.3 L698.8,679.2 L708.6,680.8 L718.4,681.2 L728.2,679.2 L729.4,678.2 L737.3,675.9 L740.2,681.2 L743.1,686.1 L739.2,690.0 L735.3,693.9 L734.9,699.2 L729.4,697.8 L723.5,696.9 L717.6,700.8 L711.8,705.7 L705.9,712.5 L700.0,719.4 L696.9,720.4 L697.3,714.5 L697.8,706.7 L694.9,698.8 L689.0,694.9 L682.2,691.0 L679.2,685.1 L675.3,691.0 L669.4,698.8 L663.5,706.7 L665.5,714.5 L671.4,720.4 L677.3,725.3 L683.1,724.3 L685.1,734.1 L684.1,738.0 L675.3,743.9 L665.5,748.8 L662.5,754.7 L643.9,755.7 L634.1,755.7 L628.2,752.7 L626.3,747.8 L627.3,740.0 L626.3,732.2 L625.3,724.3 L623.3,716.5 L626.3,708.6 L629.2,700.8 L631.2,692.9 L633.1,685.1 L634.1,675.3 L636.1,667.5 L640.0,661.6 L645.9,655.7 L648.8,649.8 L654.7,643.9Z" fill="#e9f2fc" stroke="#20242a" stroke-width="1.35" stroke-linejoin="round"/>
<path d="M628.6,791.0 L634.5,798.8 L636.5,810.6 L637.5,822.4 L638.4,834.1 L640.4,843.9 L646.3,849.8 L652.2,854.7 L655.1,863.5 L657.1,868.4 L662.0,868.4 L662.0,877.3 L664.9,885.1 L667.8,894.9 L674.7,898.8 L675.7,904.7 L671.8,912.5 L667.8,919.4 L677.6,922.4 L686.5,924.3 L691.4,925.3 L697.3,921.4 L704.1,916.5 L704.7,920.4 L699.2,928.2 L693.3,936.1 L689.4,942.0 L687.5,949.8 L695.3,946.9 L703.1,942.9 L708.0,938.0 L714.9,937.1 L720.8,939.0 L723.7,934.1 L726.3,930.2 L730.6,936.1 L733.5,940.0 L732.5,945.9 L728.6,950.8 L732.5,951.8 L739.4,947.8 L740.4,940.0 L745.3,936.1 L746.3,926.3 L753.1,933.1 L758.0,938.0 L765.9,931.2 L770.8,928.2 L770.8,922.4 L765.9,916.5 L762.0,912.5 L767.8,908.6 L773.7,904.7 L779.6,898.8 L783.5,891.0 L785.5,885.1 L790.4,879.2 L797.3,871.4 L805.1,862.5 L795.3,862.5 L789.4,867.5 L785.5,864.5 L779.6,864.5 L779.6,851.8 L789.4,851.8 L798.2,844.9 L807.1,845.9 L818.8,846.9 L816.9,842.0 L813.9,832.2 L812.0,824.3 L805.1,820.4 L796.3,816.5 L794.3,808.6 L792.4,798.8 L790.4,791.0 L783.5,789.0 L775.7,787.1 L771.8,794.9 L767.8,802.7 L763.9,809.6 L760.0,809.6 L747.3,810.2 L749.2,818.4 L753.1,828.2 L750.2,838.0 L749.2,841.6 L736.5,841.0 L730.6,834.1 L724.7,826.3 L722.7,818.4 L721.8,811.6 L714.9,808.6 L705.1,804.7 L697.3,801.8 L689.4,798.8 L687.5,789.0 L685.5,779.2 L681.6,772.4 L675.7,769.0 L670.8,767.8 L662.0,769.4 L654.1,771.4 L646.3,774.3 L639.4,777.3 L638.4,781.2 L623.7,782.2 L623.7,788.0Z" fill="#e9f2fc" stroke="#20242a" stroke-width="1.35" stroke-linejoin="round"/>
<path d="M596.5,733.4 L605.9,721.9 L614.2,726.1 L621.5,730.2 L619.4,735.4 L615.2,739.6 L611.6,742.7 L614.2,749.0 L617.3,755.2 L620.5,761.0 L618.4,764.6 L616.3,768.8 L615.2,775.0 L615.8,780.3 L619.4,784.4 L622.5,787.6 L622.4,796.9 L622.7,806.7 L623.7,816.5 L627.6,824.3 L629.6,834.1 L631.6,843.9 L634.5,852.7 L639.4,861.6 L642.4,871.4 L644.3,877.3 L649.2,885.1 L653.1,892.9 L656.1,902.7 L658.0,912.5 L658.2,920.0 L663.1,927.8 L669.0,935.7 L672.9,943.5 L676.9,951.4 L681.8,959.2 L683.7,969.0 L684.7,978.8 L688.6,986.7 L691.6,996.5 L696.5,1001.4 L702.4,1007.3 L706.3,1015.1 L709.2,1023.9 L710.6,1031.8 L707.8,1035.7 L706.3,1039.6 L710.2,1040.6 L714.1,1045.5 L715.1,1053.3 L717.1,1063.1 L721.0,1072.9 L722.9,1082.7 L722.0,1092.5 L720.0,1100.4 L718.0,1108.2 L717.1,1113.1 L712.2,1118.0 L560.0,1120.0 L560.0,730.0Z" fill="#fbfdff" stroke="#20242a" stroke-width="1.35" stroke-linejoin="round"/>
<path d="M642.5,315.0 L653.0,315.0 L655.0,317.7 L659.2,318.2 L663.4,317.7 L666.5,320.3 L669.6,325.5 L672.8,329.6 L675.9,334.3 L683.2,334.3 L685.3,338.0 L688.4,342.1 L691.5,346.3 L694.7,351.5 L697.8,352.6 L702.0,352.0 L706.1,353.6 L709.2,357.8 L710.8,362.0 L705.9,373.5 L718.6,383.3 L719.6,391.2 L724.5,402.9 L732.4,405.9 L737.3,417.6 L742.2,429.4 L752.0,428.4 L752.0,442.2 L766.7,443.1 L762.7,448.0 L752.9,450.6 L752.0,456.9 L775.5,455.9 L776.5,462.7 L777.5,472.5 L784.3,478.4 L793.7,477.5 L792.2,481.4 L782.4,485.3 L772.5,489.2 L768.6,494.1 L765.7,502.0 L758.8,507.8 L752.0,512.7 L748.0,521.6 L733.3,524.5 L719.6,527.5 L711.8,528.4 L708.6,536.1 L700.8,545.9 L691.0,555.7 L696.9,559.6 L704.7,567.5 L710.6,573.3 L716.5,576.3 L715.7,576.3 L725.5,576.3 L739.2,575.9 L751.0,577.3 L762.7,580.2 L774.5,586.1 L786.3,592.0 L796.1,599.8 L803.9,608.6 L810.8,618.4 L815.7,628.2 L820.6,639.0 L824.5,649.8 L827.5,660.6 L831.4,673.3 L835.3,686.1 L837.3,698.8 L839.2,708.6 L842.2,717.5 L847.1,725.3 L854.9,732.2 L861.8,734.5 L866.7,735.1 L872.5,730.2 L880.4,722.4 L886.3,714.5 L891.2,704.7 L896.1,694.9 L903.9,685.1 L911.8,677.3 L919.6,668.4 L927.5,661.6 L935.3,653.7 L943.1,645.9 L952.9,640.0 L960.8,633.1 L970.6,626.3 L980.4,619.4 L990.2,611.6 L1001.6,602.2 L1017.3,598.2 L1032.9,595.3 L1046.7,592.4 L1058.4,590.4 L1064.3,592.4 L1069.2,595.3 L1076.1,593.3 L1090.0,560.0 L1090.0,540.0 L1120.0,546.0 L1129.6,545.2 L1139.1,545.2 L1148.7,545.7 L1158.2,546.4 L1167.8,545.7 L1177.3,546.4 L1184.5,548.8 L1188.1,553.6 L1184.5,556.0 L1182.6,561.9 L1180.9,567.9 L1177.3,572.7 L1173.7,576.3 L1171.3,579.9 L1182.1,572.7 L1191.6,564.3 L1203.6,553.6 L1215.5,542.8 L1227.5,533.3 L1239.4,521.3 L1251.3,509.4 L1259.7,502.2 L1268.1,498.7 L1287.2,504.6 L1334.9,492.7 L1358.8,476.0 L1400.0,380.0 L1400.0,100.0 L500.0,100.0 L500.0,315.0Z" fill="#76b4db" stroke="#20242a" stroke-width="1.35" stroke-linejoin="round"/>
<path d="M1006.1,542.2 L1009.0,541.2 L1016.9,540.8 L1030.6,540.2 L1038.4,538.2 L1046.3,535.3 L1052.2,532.4 L1060.0,531.0 L1066.9,531.4 L1073.7,533.3 L1078.6,535.3 L1082.5,540.2 L1077.6,543.1 L1071.8,544.1 L1066.9,546.1 L1063.9,550.0 L1060.0,553.9 L1056.1,557.8 L1053.7,562.7 L1056.1,567.6 L1060.0,571.6 L1065.9,573.5 L1058.0,574.5 L1052.2,570.6 L1046.3,565.7 L1038.4,559.8 L1032.5,555.9 L1026.7,554.9 L1018.8,554.9 L1011.0,552.9 L1006.1,551.0Z" fill="#f5fafe" stroke="#20242a" stroke-width="1.35" stroke-linejoin="round"/>
<path d="M1110.0,519.6 L1116.9,518.6 L1126.7,519.2 L1138.0,521.6 L1136.5,529.4 L1134.5,537.3 L1132.9,544.1 L1122.7,544.1 L1116.9,542.2 L1110.0,539.2 L1109.0,533.3 L1110.0,525.5Z" fill="#fbfdff" stroke="#20242a" stroke-width="1.35" stroke-linejoin="round"/>
<path d="M1162.0,531.8 L1181.6,530.4 L1182.5,537.3 L1181.6,545.1 L1159.0,544.7 L1160.0,538.2Z" fill="#69a9d6" stroke="#20242a" stroke-width="1.35" stroke-linejoin="round"/>
<path d="M1234.6,540.0 L1244.2,539.3 L1252.5,538.1 L1256.1,545.2 L1257.3,550.0 L1254.9,557.2 L1251.3,564.3 L1246.6,571.5 L1243.0,578.7 L1241.8,584.6 L1238.2,589.4 L1232.2,587.0 L1226.3,584.6 L1220.3,585.8 L1215.5,582.2 L1214.3,576.3 L1217.9,571.5 L1222.7,566.7 L1227.5,561.9 L1231.0,552.4 L1234.1,545.2Z" fill="#f5fafe" stroke="#20242a" stroke-width="1.35" stroke-linejoin="round"/>
<path d="M1171.3,579.9 L1182.1,572.7 L1191.6,564.3 L1203.6,553.6 L1215.5,542.8 L1227.5,533.3 L1239.4,521.3 L1251.3,509.4 L1259.7,502.2 L1268.1,498.7 L1267.6,504.6 L1269.3,511.8 L1266.9,519.0 L1263.3,526.1 L1258.5,533.3 L1253.7,538.1 L1244.2,539.3 L1234.6,540.0 L1234.1,545.2 L1231.0,552.4 L1227.5,561.9 L1222.7,566.7 L1217.9,571.5 L1214.3,576.3 L1215.5,582.2 L1214.3,588.2 L1216.7,595.4 L1215.5,604.9 L1211.9,612.1 L1208.8,619.3 L1210.3,626.4 L1208.4,633.6 L1210.3,640.7 L1207.2,646.7 L1202.4,652.7 L1196.4,650.3 L1191.6,649.1 L1191.2,643.1 L1191.6,637.2 L1189.3,628.8 L1186.9,619.3 L1185.0,609.7 L1183.3,601.3 L1182.1,595.4 L1189.3,595.9 L1196.4,595.4 L1201.2,594.2 L1197.6,590.6 L1190.4,587.0 L1184.5,582.2 L1180.9,579.9Z" fill="#fbfdff" stroke="#20242a" stroke-width="1.35" stroke-linejoin="round"/>
<path d="M1226.3,565.5 L1215.5,576.3 L1206.0,588.2 L1208.8,597.8 L1211.9,606.1 L1215.5,597.8 L1215.0,588.2 L1215.5,582.2 L1214.3,576.3 L1217.9,571.5 L1222.7,566.7Z" fill="#f5fafe" stroke="#20242a" stroke-width="1.35" stroke-linejoin="round"/>
<path d="M1176.1,471.2 L1191.6,471.2 L1214.3,469.5 L1225.1,459.3 L1239.4,443.7 L1253.7,430.6 L1264.5,421.5 L1282.4,422.2 L1299.1,423.0 L1305.1,429.4 L1308.7,428.2 L1313.0,423.4 L1311.0,412.7 L1296.7,397.2 L1253.7,401.9 L1215.5,425.8 L1191.6,447.3 L1158.2,452.1 L1160.6,464.0Z" fill="#69a9d6" stroke="#20242a" stroke-width="1.35" stroke-linejoin="round"/>
<path d="M1313.0,434.2 L1315.8,444.9 L1319.4,459.3 L1321.8,471.2 L1325.4,479.6 L1332.5,478.4 L1338.5,442.5 L1325.4,435.4Z" fill="#69a9d6" stroke="#20242a" stroke-width="1.35" stroke-linejoin="round"/>
<path d="M703.5,270.2 L703.0,273.9 L706.1,274.4 L709.8,275.4 L709.2,278.6 L706.1,280.7 L704.0,283.8 L706.6,285.9 L710.3,289.0 L712.4,293.2 L713.9,298.4 L715.0,304.6 L715.5,313.0 L716.0,321.3 L717.1,329.6 L718.1,338.0 L719.1,344.2 L721.8,349.4 L724.9,354.7 L728.0,359.9 L729.1,362.0 L739.2,372.5 L749.0,382.4 L766.7,394.1 L778.4,402.9 L788.2,409.8 L802.0,418.6 L813.7,425.5 L825.5,430.4 L837.3,435.3 L843.1,372.5 L817.6,352.9 L778.4,329.4 L766.7,300.0 L756.1,290.8 L728.6,284.9Z" fill="#69a9d6" stroke="#20242a" stroke-width="1.35" stroke-linejoin="round"/>
<path d="M717.1,1010.2 L720.0,1002.4 L725.9,995.5 L733.7,990.6 L741.6,988.2 L749.4,987.1 L757.3,988.2 L764.1,991.0 L770.0,995.5 L773.9,1002.4 L775.9,1010.2 L776.9,1018.0 L775.9,1029.8 L773.9,1039.6 L771.0,1047.5 L769.0,1057.3 L766.1,1065.1 L761.2,1071.0 L755.3,1075.9 L747.5,1079.8 L739.6,1081.2 L732.7,1079.8 L725.9,1075.9 L721.0,1072.0 L717.1,1063.1 L715.1,1053.3 L714.5,1043.5 L714.1,1033.7 L714.5,1023.9 L715.1,1016.1Z" fill="#7bb6dc" stroke="#20242a" stroke-width="1.35" stroke-linejoin="round"/>
<path d="M720.0,1010.2 L725.9,1006.3 L733.7,1002.4 L741.6,1001.0 L749.4,1001.4 L755.3,1004.3 L761.2,1008.2 L766.1,1012.2 L768.0,1018.0 L770.0,1029.8 L770.6,1039.6 L769.4,1049.4 L767.5,1057.3 L765.1,1064.1 L760.8,1070.0 L755.3,1074.9 L747.5,1078.8 L739.6,1080.2 L732.7,1078.8 L726.5,1074.9 L722.0,1071.0 L718.0,1062.7 L716.1,1053.3 L715.5,1043.5 L715.3,1033.7 L715.7,1023.9 L716.5,1016.1Z" fill="#69a9d6"/>
<path d="M717.1,1012.2 L720.0,1010.2 L725.9,1006.3 L733.7,1002.4 L741.6,1001.0 L749.4,1001.4 L755.3,1004.3 L761.2,1008.2 L766.1,1012.2 L768.0,1018.0 L768.6,1022.0" fill="none" stroke="#20242a" stroke-width="1.2"/>
<path d="M718.0,1009.2 L722.9,1009.2 L722.9,1016.1 L718.0,1016.1Z" fill="#8fc3e6" stroke="#20242a" stroke-width="0.8"/>
<path d="M714.5,1018.0 L717.1,1018.0 L717.1,1025.9 L714.5,1025.9Z" fill="#8fc3e6" stroke="#20242a" stroke-width="0.8"/>
<path d="M711.2,1032.7 L713.7,1032.7 L713.7,1036.7 L711.2,1036.7Z" fill="#8fc3e6" stroke="#20242a" stroke-width="0.8"/>
<path d="M766.1,1053.3 L769.0,1053.3 L769.0,1060.2 L766.1,1060.2Z" fill="#8fc3e6" stroke="#20242a" stroke-width="0.8"/>
<path d="M762.2,1063.1 L765.5,1063.1 L765.5,1067.1 L762.2,1067.1Z" fill="#8fc3e6" stroke="#20242a" stroke-width="0.8"/>
<path d="M758.8,1067.1 L761.6,1067.1 L761.6,1070.6 L758.8,1070.6Z" fill="#8fc3e6" stroke="#20242a" stroke-width="0.8"/>
<path d="M726.9,1028.4 L728.8,1039.0 L720.0,1033.1Z" fill="#8fc3e6" stroke="#20242a" stroke-width="1.1"/>
<path d="M741.6,1076.3 L743.9,1080.4 L739.2,1080.4Z" fill="#8fc3e6" stroke="#20242a" stroke-width="0.8"/>
<path d="M644.3,757.3 L662.0,754.7 L666.9,759.6 L670.8,767.8 L654.1,771.0 L639.4,777.3 L637.5,771.4 L640.4,763.5Z" fill="#76b4db" stroke="#20242a" stroke-width="1.35" stroke-linejoin="round"/>
<path d="M596.9,162.5 L602.1,164.6 L606.3,166.7 L607.3,170.8 L612.5,171.9 L618.8,172.4 L620.9,176.1 L622.9,179.2 L629.2,182.3 L635.5,184.9 L640.7,187.5 L643.8,190.7 L648.0,191.2 L654.2,191.7 L660.5,193.8 L666.7,195.9 L671.9,197.4 L675.1,199.0 L676.6,202.1 L676.6,204.7 L681.3,206.3 L683.4,208.4 L685.5,212.5 L687.6,216.7 L689.7,220.9 L690.2,227.1 L688.6,227.7 L690.7,232.3 L692.3,236.5 L691.7,241.7 L695.9,242.2 L696.4,246.9 L699.0,252.1 L702.2,254.2 L702.9,254.0 L707.1,257.1 L711.3,260.2 L714.4,263.4 L717.5,266.5 L720.1,270.1 L722.7,266.5 L725.9,264.4 L726.4,269.6 L726.9,274.8 L729.5,275.9 L730.0,280.0 L730.6,287.8 L737.3,288.4 L738.4,289.6 L742.5,289.6 L751.4,289.4 L751.9,292.5 L755.0,293.1 L759.2,292.5 L763.4,292.5 L764.9,293.1 L784.2,303.0 L857.2,303.0 L857.2,188.3 L680.0,136.2 L586.2,136.2Z" fill="#e2eefa" stroke="#20242a" stroke-width="1.35" stroke-linejoin="round"/>
<path d="M605.2,153.1 L609.4,158.3 L613.6,164.6 L618.8,171.9 L620.9,174.5 L626.1,176.6 L631.3,179.2 L636.5,178.1 L641.7,181.8 L645.9,181.3 L650.0,183.4 L655.3,186.0 L660.5,188.0 L664.6,190.1 L668.8,192.7 L671.9,195.9 L675.1,197.4 L678.2,199.0 L681.3,202.1 L683.4,205.2 L684.4,207.3 L690.2,207.3 L690.2,216.7 L692.8,218.3 L694.9,219.3 L696.4,223.0 L698.0,227.1 L699.6,231.3 L701.1,235.5 L703.2,238.6 L705.8,241.7 L708.4,244.3 L711.5,245.4 L716.8,245.9 L723.0,246.4 L729.3,245.9 L732.1,246.2 L738.4,245.1 L743.6,243.6 L746.7,241.5 L748.0,243.0 L744.6,245.6 L741.5,248.8 L738.4,252.9 L735.2,257.1 L732.6,261.3 L731.1,265.4 L730.0,269.6 L729.8,273.8 L729.5,275.9 L732.1,276.4 L732.6,280.0 L733.2,285.2 L737.3,285.8 L738.4,289.4 L742.5,289.6 L746.7,289.4 L751.4,289.4 L751.9,292.5 L755.0,293.1 L759.2,292.5 L763.4,292.5 L764.9,293.1 L784.2,303.0 L857.2,303.0 L857.2,188.3 L680.0,136.2 L607.0,136.2Z" fill="#cde0f5" stroke="#20242a" stroke-width="1.35" stroke-linejoin="round"/>
<path d="M585.4,169.8 L588.6,167.7 L592.2,168.2 L593.2,174.0 L593.8,180.2 L590.6,181.3 L585.9,178.1 L584.4,174.0Z" fill="#cfe2f6" stroke="#20242a" stroke-width="1.35" stroke-linejoin="round"/>
<path d="M592.7,167.7 L595.8,164.1 L602.1,164.6 L606.3,166.7 L606.8,170.8 L605.2,175.0 L603.1,180.2 L597.9,180.7 L593.8,180.2 L593.2,174.0Z" fill="#4291d1" stroke="#20242a" stroke-width="1.35" stroke-linejoin="round"/>
<path d="M606.8,170.8 L612.5,171.9 L618.8,172.4 L620.9,176.1 L622.9,179.2 L629.2,182.3 L635.5,184.9 L640.7,187.5 L643.8,190.7 L641.7,194.8 L638.6,200.0 L635.5,205.2 L631.3,204.2 L626.1,202.1 L621.4,202.6 L620.9,199.0 L622.9,195.9 L622.9,192.7 L617.7,191.7 L612.5,191.2 L608.4,188.6 L604.2,185.4 L603.7,180.7 L605.2,175.0Z" fill="#2372c5" stroke="#20242a" stroke-width="1.35" stroke-linejoin="round"/>
<path d="M643.8,190.7 L648.0,191.2 L654.2,191.7 L660.5,193.8 L666.7,195.9 L671.9,197.4 L675.1,199.0 L676.6,202.1 L676.6,204.7 L681.3,206.3 L683.4,208.4 L685.5,212.5 L687.6,216.7 L689.7,220.9 L690.2,227.1 L688.6,227.7 L684.4,226.6 L679.2,226.1 L678.7,220.9 L674.0,220.9 L665.7,224.5 L658.4,228.7 L654.2,231.3 L650.0,232.9 L642.8,233.4 L637.5,233.4 L636.5,230.3 L634.4,227.1 L631.3,225.0 L631.8,218.8 L632.3,212.5 L633.4,207.3 L635.5,205.2 L638.6,200.0 L641.7,194.8Z" fill="#4291d1" stroke="#20242a" stroke-width="1.35" stroke-linejoin="round"/>
<path d="M650.0,209.9 L656.3,211.0 L663.6,212.0 L668.8,213.1 L671.9,216.7 L674.0,219.8 L668.8,223.0 L663.6,226.1 L658.4,229.2 L654.2,231.3 L650.0,232.3 L646.9,229.2 L643.8,226.1 L640.7,221.9 L643.8,217.8 L646.9,213.6Z" fill="#4f9ad6" stroke="#20242a" stroke-width="1.35" stroke-linejoin="round"/>
<path d="M678.7,220.9 L678.2,227.1 L678.2,233.4 L677.7,239.6 L673.0,238.1 L666.7,236.0 L660.5,234.4 L656.3,233.4 L654.2,231.3 L658.4,228.7 L665.7,224.5 L674.0,220.9Z" fill="#1863b9" stroke="#20242a" stroke-width="1.35" stroke-linejoin="round"/>
<path d="M631.3,216.7 L627.1,218.8 L622.9,219.8 L619.8,221.9 L618.8,225.0 L614.6,225.6 L612.5,228.2 L611.5,232.3 L613.0,235.5 L616.7,236.5 L620.9,237.0 L624.0,236.5 L624.5,231.3 L625.0,228.2 L627.1,226.1 L631.3,225.0 L631.8,218.8Z" fill="#2372c5" stroke="#20242a" stroke-width="1.35" stroke-linejoin="round"/>
<path d="M625.0,228.2 L627.1,226.1 L631.3,225.0 L634.4,227.1 L636.5,230.3 L637.5,233.4 L633.4,234.9 L629.2,236.0 L624.0,236.5 L624.5,231.3Z" fill="#4f9ad6" stroke="#20242a" stroke-width="1.35" stroke-linejoin="round"/>
<path d="M613.0,235.5 L616.7,236.5 L618.8,238.6 L618.8,243.8 L621.9,246.9 L626.1,251.1 L620.9,250.1 L616.7,248.5 L615.7,243.8 L614.6,239.6Z" fill="#8fc3e6" stroke="#20242a" stroke-width="1.35" stroke-linejoin="round"/>
<path d="M618.8,238.6 L625.0,237.6 L631.3,236.5 L637.5,235.5 L641.7,236.0 L641.7,242.8 L636.5,244.3 L633.4,246.9 L629.2,249.0 L626.1,251.1 L621.9,246.9 L618.8,243.8Z" fill="#cfe2f6" stroke="#20242a" stroke-width="1.35" stroke-linejoin="round"/>
<path d="M641.7,234.6 L648.0,234.0 L654.2,234.2 L656.3,233.4 L656.8,235.3 L652.1,238.6 L648.0,241.7 L641.7,242.8Z" fill="#8fc3e6" stroke="#20242a" stroke-width="1"/>
<path d="M636.5,244.3 L641.7,242.8 L648.0,241.7 L652.1,238.6 L654.2,235.5 L660.5,234.4 L666.7,236.0 L673.0,238.1 L677.7,239.6 L678.2,242.8 L674.0,244.9 L668.8,247.5 L665.7,250.1 L667.6,250.9 L671.7,253.0 L675.9,255.6 L677.5,259.8 L678.0,264.0 L678.5,269.2 L680.1,273.9 L683.2,274.4 L686.3,272.3 L689.4,275.4 L688.4,278.6 L684.2,281.7 L680.1,284.3 L676.9,280.7 L673.8,276.5 L670.7,273.4 L667.6,270.2 L665.5,266.1 L663.4,261.9 L659.2,258.8 L655.0,254.6 L650.9,251.5 L645.7,249.4 L640.5,247.8 L635.2,245.2Z" fill="#5ca4d9" stroke="#20242a" stroke-width="1.35" stroke-linejoin="round"/>
<path d="M678.2,227.1 L684.4,226.6 L688.6,227.7 L690.7,232.3 L692.3,236.5 L691.7,241.7 L691.0,243.1 L694.7,244.2 L696.7,249.4 L698.8,251.5 L702.0,253.6 L703.0,258.8 L703.0,268.1 L698.8,268.7 L696.7,267.6 L693.6,263.5 L690.5,259.8 L687.4,257.7 L684.8,254.6 L682.7,250.4 L680.1,247.3 L677.5,244.7 L677.7,239.6 L678.2,233.4Z" fill="#c2dcf2" stroke="#20242a" stroke-width="1.35" stroke-linejoin="round"/>
<path d="M669.6,247.8 L673.8,246.3 L677.5,244.7 L680.1,247.3 L682.7,250.4 L684.8,254.6 L687.4,257.7 L690.5,259.8 L693.6,263.5 L696.7,267.6 L698.8,268.7 L696.2,269.2 L696.2,274.4 L691.5,274.9 L689.4,275.4 L686.3,272.3 L683.2,274.4 L680.1,273.9 L678.5,269.2 L678.0,264.0 L677.5,259.8 L675.9,255.6 L671.7,253.0 L667.6,250.9 L665.5,249.9Z" fill="#b4d5ee" stroke="#20242a" stroke-width="1.35" stroke-linejoin="round"/>
<path d="M702.9,254.0 L707.1,257.1 L711.3,260.2 L714.4,263.4 L717.5,266.5 L720.1,270.1 L722.7,266.5 L725.9,264.4 L726.4,269.6 L726.9,274.8 L729.5,275.9 L730.0,280.0 L730.6,287.8 L737.3,288.4 L738.4,290.5 L739.9,294.1 L740.5,295.7 L736.3,297.8 L732.1,298.8 L730.0,298.3 L728.5,294.6 L726.4,291.0 L723.3,289.9 L720.1,288.4 L717.5,287.8 L716.5,285.2 L714.9,281.1 L713.4,276.9 L711.3,273.8 L709.2,272.7 L706.1,272.5 L702.9,272.2 L702.4,266.5 L702.7,260.2Z" fill="#4291d1" stroke="#20242a" stroke-width="1.35" stroke-linejoin="round"/>
<path d="M702.9,272.2 L706.1,272.5 L709.2,272.7 L711.3,273.8 L713.4,276.9 L714.9,281.1 L716.5,285.2 L713.4,284.7 L711.3,282.1 L710.2,279.0 L707.1,276.4 L703.5,274.8Z" fill="#2372c5" stroke="#20242a" stroke-width="1.35" stroke-linejoin="round"/>
<path d="M723.8,250.8 L727.4,256.1 L725.9,259.2 L722.2,264.4 L719.1,261.3 L721.2,256.1Z" fill="#4291d1" stroke="#20242a" stroke-width="1.35" stroke-linejoin="round"/>
<path d="M730.0,298.3 L732.1,298.8 L736.3,297.8 L740.5,295.7 L744.6,294.1 L748.8,293.1 L751.9,292.5 L753.5,296.7 L755.0,293.6 L759.2,292.5 L763.4,292.5 L763.4,295.7 L764.4,298.8 L766.0,301.9 L768.1,305.0 L769.6,308.2 L767.6,312.3 L764.4,316.5 L761.8,320.7 L759.7,323.8 L758.7,325.9 L756.1,322.8 L751.9,321.7 L749.8,319.6 L746.7,317.6 L743.6,313.4 L740.5,309.2 L737.3,305.0 L734.2,301.4Z" fill="#4291d1" stroke="#20242a" stroke-width="1.35" stroke-linejoin="round"/>
<path d="M769.6,308.2 L771.7,311.3 L773.3,314.4 L772.8,318.6 L774.3,322.8 L775.4,325.9 L773.3,328.5 L771.7,332.1 L767.6,333.2 L763.4,332.1 L762.9,328.0 L762.3,325.9 L758.7,325.9 L759.7,323.8 L761.8,320.7 L764.4,316.5 L767.6,312.3Z" fill="#3c8acc" stroke="#20242a" stroke-width="1.35" stroke-linejoin="round"/>
<path d="M723.3,289.9 L726.4,291.0 L728.5,294.6 L729.5,301.9 L723.8,301.9 L723.3,296.7Z" fill="#cfe2f6" stroke="#20242a" stroke-width="1.35" stroke-linejoin="round"/>
<path d="M723.3,299.3 L726.4,299.3 L726.4,301.9 L723.3,301.9Z" fill="#f4f8fd" stroke="#20242a" stroke-width="1"/>
<path d="M729.5,301.9 L732.1,300.9 L735.2,304.0 L738.4,308.2 L741.5,312.3 L744.6,316.5 L746.7,319.6 L742.5,320.7 L738.4,320.2 L734.2,320.7 L731.1,321.2 L727.9,318.6 L725.3,316.5 L724.8,312.3 L725.9,308.2 L726.4,305.0 L725.9,302.4Z" fill="#cfe2f6" stroke="#20242a" stroke-width="1.35" stroke-linejoin="round"/>
<path d="M750.9,322.8 L755.0,323.3 L756.1,325.9 L753.0,332.1 L750.9,338.4 L745.7,338.9 L747.8,333.2 L749.3,328.0Z" fill="#e2eefa" stroke="#20242a" stroke-width="1.35" stroke-linejoin="round"/>
<path d="M756.1,326.9 L762.3,326.4 L762.9,332.1 L767.6,334.2 L765.5,336.3 L759.2,336.8 L751.4,338.9 L753.5,333.2Z" fill="#b4d5ee" stroke="#20242a" stroke-width="1.35" stroke-linejoin="round"/>
<path d="M776.9,334.8 L779.0,335.3 L782.1,331.1 L784.8,332.7 L787.4,335.3 L789.4,338.4 L791.5,341.5 L794.7,343.6 L798.8,346.7 L803.0,346.7 L806.1,347.8 L810.3,349.9 L813.4,352.0 L809.2,352.0 L803.0,349.9 L796.7,346.7 L790.5,343.6 L784.2,340.5 L780.1,338.4 L777.5,336.8Z" fill="#2372c5" stroke="#20242a" stroke-width="1.35" stroke-linejoin="round"/>
<path d="M774.9,296.7 L776.9,299.3 L780.1,301.4 L783.2,299.3 L785.3,296.7 L788.9,296.2 L790.5,294.6 L794.7,294.1 L797.3,292.5 L798.8,289.9 L794.7,289.4 L790.5,289.9 L789.4,292.5 L784.2,293.1 L783.2,295.1 L780.1,296.7 L776.9,295.1 L774.3,293.6Z" fill="#4f9ad6" stroke="#20242a" stroke-width="1.35" stroke-linejoin="round"/>
<path d="M799.0,348.0 L803.9,346.7 L807.8,350.0 L812.7,352.0 L817.6,353.9 L818.6,358.8 L811.8,356.9 L803.9,352.9Z" fill="#2372c5" stroke="#20242a" stroke-width="1"/>
<path d="M1053.7,472.5 L1055.1,465.7 L1057.1,458.8 L1058.0,454.9 L1056.1,451.0 L1061.0,449.0 L1066.9,447.1 L1071.8,444.1 L1076.7,447.1 L1078.6,452.0 L1077.6,456.9 L1076.7,462.7 L1077.6,467.6 L1080.0,472.5 L1077.6,475.5 L1079.6,480.4 L1083.5,484.3 L1087.5,487.3 L1093.3,488.2 L1099.2,490.2 L1103.1,491.2 L1095.3,498.0 L1087.5,500.0 L1077.6,497.1 L1065.9,496.1 L1058.0,492.2 L1054.1,478.4Z" fill="#69a9d6" stroke="#20242a" stroke-width="1.35" stroke-linejoin="round"/>
<path d="M1061.0,450.0 L1071.8,445.1 L1077.6,448.0 L1078.6,454.9 L1073.7,456.9 L1067.8,455.9 L1062.0,453.9Z" fill="#cfe2f6" stroke="#20242a" stroke-width="1.35" stroke-linejoin="round"/>
<path d="M1058.0,454.9 L1062.0,454.5 L1067.8,458.8 L1073.7,457.8 L1077.6,458.8 L1077.3,466.7 L1080.0,472.5 L1077.6,474.5 L1071.8,473.5 L1066.9,466.7 L1062.0,460.8Z" fill="#2372c5" stroke="#20242a" stroke-width="1.35" stroke-linejoin="round"/>
<path d="M625.3,501.8 L629.2,513.5 L620.0,510.6Z" fill="#f5fafe" stroke="#20242a" stroke-width="1.2" stroke-linejoin="round"/>
<path d="M704.7,509.0 L706.7,516.5 L704.7,523.3 L699.8,517.5Z" fill="#8fc3e6" stroke="#20242a" stroke-width="1.2" stroke-linejoin="round"/>
<path d="M591.0,553.7 L594.9,554.1 L596.5,565.5 L588.0,577.3 L581.2,575.3 L578.2,564.5Z" fill="#f5fafe" stroke="#20242a" stroke-width="1.2" stroke-linejoin="round"/>
<path d="M592.9,588.0 L612.5,590.6 L608.6,600.4 L597.8,598.8Z" fill="#f5fafe" stroke="#20242a" stroke-width="1.2" stroke-linejoin="round"/>
<path d="M525.3,664.5 L530.2,679.6 L514.5,675.7Z" fill="#f5fafe" stroke="#20242a" stroke-width="1.2" stroke-linejoin="round"/>
<path d="M607.6,701.8 L611.6,716.5 L601.8,708.6Z" fill="#fbfdff" stroke="#20242a" stroke-width="1.2" stroke-linejoin="round"/>
<path d="M657.6,576.3 L669.4,576.3 L672.4,585.1 L669.4,600.8 L660.6,596.9 L658.6,587.1Z" fill="#e9f2fc" stroke="#20242a" stroke-width="1.2" stroke-linejoin="round"/>
<path d="M634.1,600.8 L638.0,607.6 L635.1,611.6 L631.2,607.6Z" fill="#e9f2fc" stroke="#20242a" stroke-width="1.2" stroke-linejoin="round"/>
<path d="M644.9,622.4 L648.2,626.3 L653.7,626.3 L649.8,632.2 L647.8,627.3Z" fill="#e9f2fc" stroke="#20242a" stroke-width="1.2" stroke-linejoin="round"/>
<path d="M672.4,611.6 L675.3,617.5 L671.0,617.5Z" fill="#e9f2fc" stroke="#20242a" stroke-width="1.2" stroke-linejoin="round"/>
<path d="M630.2,740.0 L636.1,743.9 L631.2,743.9Z" fill="#f5fafe" stroke="#20242a" stroke-width="1.2" stroke-linejoin="round"/>
<path d="M624.3,642.0 L627.3,644.9 L623.9,645.5Z" fill="#e9f2fc" stroke="#20242a" stroke-width="1.2" stroke-linejoin="round"/>
<path d="M703.9,508.8 L707.8,515.7 L704.9,522.5 L700.0,517.6Z" fill="#8fc3e6" stroke="#20242a" stroke-width="1.2" stroke-linejoin="round"/>
<path d="M991.4,537.3 L997.6,546.7 L988.0,544.7Z" fill="#fbfdff" stroke="#20242a" stroke-width="1.2" stroke-linejoin="round"/>
<path d="M778.6,869.4 L781.2,877.3 L776.7,878.2Z" fill="#f5fafe" stroke="#20242a" stroke-width="1.2" stroke-linejoin="round"/>
<path d="M685.5,913.5 L687.5,917.5 L683.9,916.5Z" fill="#f5fafe" stroke="#20242a" stroke-width="1.2" stroke-linejoin="round"/>
<path d="M632.5,741.0 L635.5,743.9 L630.6,743.9Z" fill="#f5fafe" stroke="#20242a" stroke-width="1.2" stroke-linejoin="round"/>
<path d="M716.9,942.0 L719.8,944.9 L717.8,945.9Z" fill="#f5fafe" stroke="#20242a" stroke-width="1.2" stroke-linejoin="round"/>
<path d="M695.5,964.1 L699.4,974.9 L692.2,969.0Z" fill="#e9f2fc" stroke="#20242a" stroke-width="1.2" stroke-linejoin="round"/>
<path d="M813.9,934.1 L817.8,938.0 L816.9,942.0 L813.9,939.0Z" fill="#fbfdff" stroke="#20242a" stroke-width="1.2" stroke-linejoin="round"/>
<path d="M1204.7,533.2 L1207.3,537.1 L1203.4,536.4Z" fill="#69a9d6" stroke="#20242a" stroke-width="1.2" stroke-linejoin="round"/>
<path d="M1225.5,534.5 L1227.5,534.5 L1227.5,537.1 L1224.9,537.1Z" fill="#fbfdff" stroke="#20242a" stroke-width="1.2" stroke-linejoin="round"/>
</g>

<path d="M588.6,167.7 L592.7,167.2 L595.8,164.1 L596.9,162.5 L601.1,156.3 L605.2,153.1 L607.1,152.0 L612.0,151.2 L618.8,149.6 L622.7,148.6 L619.8,146.7 L624.7,146.1 L630.6,145.3 L635.5,143.7 L640.4,142.2 L646.3,140.8 L650.2,139.8 L654.1,141.8 L658.0,143.7 L662.0,144.7 L666.9,141.4 L670.8,140.8 L672.7,144.7 L675.7,148.6 L679.6,151.6 L682.5,155.5 L687.5,159.4 L693.3,161.4 L697.3,164.3 L702.2,166.3 L706.1,169.2 L710.0,171.2 L712.9,176.1 L716.9,180.0 L720.8,182.9 L726.7,183.9 L730.6,186.9 L733.5,189.8 L730.6,192.7 L733.5,194.7 L738.4,193.7 L744.3,193.7 L749.2,191.8 L753.1,188.8 L757.1,185.9 L762.0,183.9 L767.8,182.0 L772.7,180.6 L777.6,181.4 L782.5,180.6 L786.5,178.0 L791.4,177.1 L795.3,179.0 L800.2,182.0 L805.1,182.9 L810.0,182.0 L814.9,183.9 L818.8,187.8 L821.2,192.7 L819.8,197.6 L816.9,202.5 L815.9,208.4 L813.9,213.3 L812.9,218.2 L809.0,221.2 L805.1,226.1 L801.2,228.0 L795.7,230.0 L798.8,234.2 L798.3,238.3 L794.7,240.4 L793.1,243.0 L788.4,242.5 L784.2,243.0 L779.0,244.1 L778.0,246.7 L781.1,248.8 L781.6,251.9 L783.2,255.0 L783.7,257.6 L778.0,257.9 L778.5,262.3 L780.1,266.0 L784.2,268.0 L789.4,268.8 L793.6,269.1 L795.2,271.7 L794.1,275.3 L792.6,278.5 L794.7,281.1 L797.3,284.2 L799.7,286.8 L798.8,289.9 L797.3,292.5 L794.7,294.1 L790.5,294.6 L788.9,296.2 L785.3,296.7 L783.2,299.3 L780.1,301.4 L776.9,299.3 L774.9,296.7 L773.8,292.5 L773.3,289.9 L770.7,291.5 L768.6,292.5 L764.9,293.1 L763.4,295.7 L764.4,298.8 L766.0,301.9 L768.1,305.0 L769.6,308.2 L771.7,311.3 L773.3,314.4 L772.8,318.6 L774.3,322.8 L775.4,325.9 L773.3,328.5 L774.3,331.6 L776.9,334.8 L779.0,335.3 L782.1,331.1 L784.8,332.7 L787.4,335.3 L789.4,338.4 L791.5,341.5 L794.7,343.6 L798.8,346.7 L803.0,346.7 L806.1,347.8 L810.3,349.9 L813.4,352.0 L818.6,358.8 L823.5,361.8 L829.4,364.7 L835.3,368.6 L841.6,372.2 L837.3,377.5 L833.3,382.4 L828.4,387.3 L824.5,390.2 L823.5,395.1 L819.6,400.0 L817.6,403.9 L819.6,407.8 L815.7,411.8 L812.7,416.7 L815.7,420.6 L821.6,425.5 L827.5,425.1 L833.3,429.4 L839.2,433.3 L846.1,435.3 L851.0,441.2 L856.9,445.1 L862.7,449.0 L868.6,452.9 L872.5,451.0 L877.5,453.9 L883.3,457.8 L889.2,458.8 L893.1,460.8 L895.1,465.7 L902.0,467.6 L908.8,466.7 L912.7,470.6 L915.7,467.6 L921.6,466.7 L928.4,468.6 L935.3,466.7 L940.2,468.6 L947.1,470.6 L952.0,474.5 L952.9,479.4 L958.8,482.4 L960.0,484.3 L965.9,486.3 L968.8,490.2 L974.7,489.2 L979.6,487.3 L984.5,491.2 L987.5,496.1 L993.3,495.1 L1000.2,496.1 L1007.1,497.1 L1012.9,501.0 L1019.8,500.0 L1025.7,497.1 L1029.6,502.0 L1035.5,502.9 L1042.4,501.0 L1048.2,502.0 L1054.1,501.0 L1056.1,496.1 L1055.1,490.2 L1056.1,484.3 L1054.1,478.4 L1053.7,472.5 L1055.1,465.7 L1057.1,458.8 L1058.0,454.9 L1056.1,451.0 L1061.0,449.0 L1066.9,447.1 L1071.8,444.1 L1076.7,447.1 L1078.6,452.0 L1077.6,456.9 L1076.7,462.7 L1077.6,467.6 L1080.0,472.5 L1077.6,475.5 L1079.6,480.4 L1083.5,484.3 L1087.5,487.3 L1093.3,488.2 L1099.2,490.2 L1103.1,491.2 L1109.0,491.2 L1114.9,490.2 L1119.8,487.3 L1124.7,486.3 L1128.6,488.2 L1133.5,490.2 L1140.4,490.2 L1146.3,489.2 L1152.2,488.2 L1158.0,487.3 L1164.9,486.3 L1170.8,487.3 L1175.7,486.3 L1176.7,480.4 L1175.7,475.5 L1176.7,470.6 L1172.7,467.6 L1167.8,466.7 L1162.9,465.7 L1161.0,460.8 L1160.6,454.5 L1164.2,458.1 L1169.0,455.7 L1176.1,455.7 L1182.1,454.0 L1188.1,452.6 L1192.8,449.2 L1196.4,443.7 L1202.4,439.0 L1207.2,436.6 L1211.9,432.5 L1216.7,428.2 L1222.7,425.8 L1229.9,425.3 L1234.6,421.0 L1239.4,415.1 L1244.2,410.3 L1250.1,406.2 L1254.9,403.9 L1258.5,407.9 L1264.5,410.3 L1270.4,412.0 L1276.4,413.9 L1281.2,410.3 L1286.0,406.2 L1290.7,401.9 L1296.7,399.6 L1300.3,404.3 L1306.3,406.7 L1303.9,411.5 L1300.3,415.1 L1305.1,413.9 L1310.6,412.7 L1311.0,418.7 L1313.0,423.4 L1308.7,428.2 L1305.1,433.0 L1311.0,434.2 L1318.2,433.7 L1325.4,436.6 L1331.3,439.0 L1336.1,442.5 L1334.9,448.5 L1336.1,453.3 L1331.3,456.9 L1327.8,460.4 L1324.2,465.2 L1326.6,471.2 L1330.1,477.2 L1325.4,478.4 L1321.8,472.4 L1319.4,470.0 L1313.4,471.2 L1306.3,473.6 L1299.1,477.2 L1291.9,481.9 L1287.2,487.9 L1281.2,492.7 L1275.2,495.1 L1269.3,497.5 L1267.6,504.6 L1269.3,511.8 L1266.9,519.0 L1263.3,526.1 L1258.5,533.3 L1253.7,538.1 L1256.1,545.2 L1257.3,550.0 L1254.9,557.2 L1251.3,564.3 L1246.6,571.5 L1243.0,578.7 L1241.8,584.6 L1238.2,589.4 L1232.2,587.0 L1226.3,584.6 L1220.3,585.8 L1215.5,582.2 L1214.3,588.2 L1216.7,595.4 L1215.5,604.9 L1211.9,612.1 L1208.8,619.3 L1210.3,626.4 L1208.4,633.6 L1210.3,640.7 L1207.2,646.7 L1202.4,652.7 L1196.4,650.3 L1191.6,649.1 L1191.2,643.1 L1191.6,637.2 L1189.3,628.8 L1186.9,619.3 L1185.0,609.7 L1183.3,601.3 L1182.1,595.4 L1173.7,595.4 L1171.3,600.1 L1169.0,606.1 L1167.8,613.3 L1164.2,618.1 L1159.4,619.3 L1154.6,614.5 L1153.4,608.5 L1150.6,602.5 L1148.7,595.4 L1151.0,589.4 L1153.4,583.4 L1158.2,581.0 L1165.4,581.0 L1171.3,579.9 L1173.7,576.3 L1177.3,572.7 L1180.9,567.9 L1182.6,561.9 L1184.5,556.0 L1188.1,553.6 L1184.5,548.8 L1177.3,546.4 L1167.8,545.7 L1158.2,546.4 L1148.7,545.7 L1139.1,545.2 L1129.6,545.2 L1120.0,544.0 L1116.9,542.2 L1110.0,539.2 L1109.0,533.3 L1110.0,525.5 L1108.0,519.6 L1106.1,513.7 L1103.1,510.8 L1101.2,515.7 L1095.3,516.7 L1089.4,513.7 L1085.5,509.8 L1087.5,506.9 L1085.5,503.9 L1081.6,507.8 L1076.7,504.9 L1072.7,505.9 L1068.8,502.9 L1063.9,498.0 L1060.0,505.9 L1057.1,512.7 L1056.1,519.6 L1059.0,524.5 L1063.9,527.5 L1066.9,531.4 L1073.7,533.3 L1078.6,535.3 L1082.5,540.2 L1077.6,543.1 L1071.8,544.1 L1066.9,546.1 L1063.9,550.0 L1060.0,553.9 L1056.1,557.8 L1053.7,562.7 L1054.5,564.9 L1060.4,569.8 L1068.2,573.7 L1074.1,574.7 L1075.1,581.6 L1073.1,587.5 L1071.2,592.4 L1073.1,598.2 L1075.1,604.1 L1078.0,608.0 L1082.0,612.0 L1080.0,616.9 L1081.0,622.7 L1082.0,627.6 L1082.9,636.5 L1084.9,644.3 L1083.9,652.2 L1085.5,662.0 L1080.0,666.9 L1074.1,665.9 L1068.2,667.5 L1062.4,665.9 L1057.5,666.9 L1054.5,666.9 L1052.5,662.0 L1048.6,660.0 L1042.7,662.9 L1034.9,665.9 L1029.0,667.8 L1024.1,671.8 L1020.2,675.7 L1018.2,680.6 L1020.2,685.5 L1022.2,690.4 L1024.1,695.3 L1020.2,699.2 L1017.3,703.1 L1015.3,708.0 L1011.4,712.0 L1007.5,714.9 L1004.5,718.8 L999.6,721.8 L993.7,724.7 L987.8,726.7 L982.0,728.6 L976.1,731.6 L970.2,735.5 L964.3,740.4 L958.4,745.3 L954.5,750.2 L953.5,756.1 L948.6,762.0 L943.7,768.8 L938.8,774.7 L934.9,779.6 L929.0,783.5 L922.2,787.5 L917.3,790.0 L918.9,789.7 L909.5,797.5 L900.1,805.3 L892.3,810.0 L886.1,814.7 L881.4,820.2 L879.8,825.7 L880.6,831.9 L879.0,836.6 L873.5,839.7 L868.9,842.9 L864.2,845.2 L857.9,844.4 L852.4,845.2 L848.5,849.9 L846.2,855.4 L843.8,860.1 L840.7,864.8 L836.8,865.5 L834.5,861.6 L829.8,860.1 L825.1,862.4 L820.4,866.3 L816.5,872.6 L814.1,878.8 L812.6,885.1 L813.4,892.9 L814.9,900.7 L816.5,908.5 L815.7,916.3 L816.5,924.2 L815.1,920.0 L817.1,925.9 L818.0,931.8 L814.1,935.7 L818.0,939.6 L820.0,945.5 L819.6,955.3 L818.0,965.1 L816.1,971.0 L813.1,976.9 L810.2,982.7 L807.3,990.6 L805.3,998.4 L803.9,1006.3 L804.3,1014.1 L805.3,1022.0 L806.3,1029.8 L807.3,1037.6 L807.3,1045.5 L804.3,1049.8 L796.5,1049.0 L790.6,1051.4 L788.2,1055.3 L785.7,1061.2 L782.7,1067.1 L779.8,1072.9 L779.2,1077.8 L782.7,1081.8 L790.6,1083.7 L793.5,1088.6 L788.6,1085.7 L782.7,1084.7 L776.9,1084.7 L771.0,1086.7 L765.1,1088.6 L760.2,1092.5 L756.3,1096.5 L755.3,1102.4 L753.3,1108.2 L750.4,1114.1 L745.5,1119.0 L739.6,1122.9 L735.7,1125.5 L731.8,1124.9 L725.9,1122.0 L720.0,1116.1 L716.1,1109.2 L711.2,1102.4 L706.3,1094.5 L703.3,1086.7 L700.4,1078.8 L697.5,1069.0 L694.9,1058.2 L692.5,1048.4 L689.6,1041.6 L686.7,1031.8 L683.7,1022.0 L680.8,1014.1 L676.9,1006.3 L672.9,998.4 L668.0,992.5 L664.1,984.7 L660.2,976.9 L656.3,967.1 L653.3,957.3 L650.4,947.5 L649.4,937.6 L646.5,927.8 L643.5,920.0 L642.4,915.5 L639.4,906.7 L635.5,898.8 L631.6,891.0 L627.6,883.1 L623.7,873.3 L619.8,865.5 L615.9,857.6 L612.9,847.8 L611.0,838.0 L610.0,828.2 L608.0,818.4 L606.1,808.6 L604.1,798.8 L602.2,789.0 L599.2,781.2 L597.3,773.3 L595.3,765.5 L596.9,765.5 L594.9,752.7 L592.9,740.0 L592.1,736.3 L589.7,727.0 L590.5,717.6 L592.8,709.8 L596.0,700.4 L593.6,694.1 L591.3,686.3 L588.1,680.1 L590.5,673.8 L596.7,671.5 L591.3,670.7 L588.9,664.4 L586.6,663.6 L586.3,655.0 L585.8,645.7 L583.5,642.5 L581.1,640.2 L580.3,647.2 L574.9,652.7 L577.2,658.2 L580.3,664.4 L575.6,672.2 L570.9,680.1 L565.5,684.1 L559.6,687.1 L553.7,690.0 L547.8,692.9 L542.0,694.9 L536.1,696.5 L530.2,695.9 L524.3,692.0 L518.4,688.0 L513.5,683.1 L508.6,678.2 L503.7,673.3 L499.8,667.5 L494.9,664.5 L490.0,660.6 L485.1,656.7 L481.2,651.8 L478.2,646.9 L477.3,641.0 L480.2,637.1 L484.1,638.0 L489.0,637.1 L494.9,638.0 L500.8,636.1 L506.7,633.1 L512.5,631.2 L516.5,626.3 L520.4,621.4 L520.4,615.5 L516.5,618.4 L510.6,620.4 L504.7,623.3 L498.8,625.3 L492.9,625.9 L486.1,624.3 L479.2,621.4 L473.3,617.5 L469.4,613.5 L468.4,609.6 L464.5,606.7 L461.6,602.7 L459.6,598.8 L454.7,597.8 L453.7,592.9 L455.7,588.0 L459.6,586.1 L465.5,586.1 L470.4,585.1 L471.4,579.2 L473.3,575.3 L477.3,578.2 L482.2,577.3 L487.1,576.3 L492.9,575.3 L497.8,576.3 L501.8,578.2 L507.6,578.2 L512.5,576.3 L517.5,573.3 L522.4,572.4 L526.3,571.4 L528.2,576.3 L532.2,575.3 L537.1,572.4 L541.0,569.4 L542.0,564.5 L541.0,558.6 L538.0,551.8 L536.1,545.9 L532.2,540.0 L532.2,540.0 L529.8,534.1 L528.2,528.2 L524.3,527.3 L518.4,526.3 L514.5,521.4 L511.6,516.5 L511.6,512.5 L514.1,506.7 L514.5,500.8 L512.5,496.9 L506.7,496.5 L500.8,495.9 L495.9,492.0 L492.5,489.0 L492.9,484.1 L494.9,478.2 L498.8,473.3 L503.7,468.4 L508.6,462.5 L511.6,456.7 L515.5,451.8 L520.4,447.8 L525.3,447.5 L528.2,450.8 L530.2,455.7 L534.1,459.2 L540.0,457.6 L546.9,454.7 L554.7,453.3 L562.5,451.8 L566.5,448.8 L567.5,443.9 L570.4,440.0 L575.3,435.1 L577.3,429.2 L580.2,423.3 L585.1,419.4 L591.0,416.5 L596.9,413.5 L600.8,407.6 L603.7,400.8 L606.7,393.9 L608.6,387.1 L611.6,382.2 L617.5,379.2 L624.3,376.3 L627.3,372.4 L626.3,368.4 L628.2,364.5 L634.1,358.6 L639.0,352.7 L643.9,347.8 L647.8,342.9 L646.7,342.7 L645.7,341.1 L645.1,338.0 L646.2,333.8 L647.8,329.6 L646.7,325.5 L645.7,321.3 L647.8,317.7 L650.9,315.0 L654.0,313.5 L658.2,311.4 L662.3,309.8 L666.5,308.8 L669.6,306.7 L670.7,303.6 L668.6,300.5 L664.4,298.4 L660.3,296.8 L656.1,296.3 L651.9,295.2 L649.3,293.2 L649.3,290.0 L650.9,286.9 L649.8,284.8 L646.7,286.4 L642.5,285.9 L638.4,284.8 L634.2,283.8 L630.0,282.2 L625.9,280.1 L621.7,278.0 L619.1,274.4 L618.0,270.2 L617.0,265.0 L617.5,259.8 L616.7,254.6 L616.5,249.4 L616.0,244.2 L614.4,240.0 L614.4,239.6 L613.0,235.5 L611.5,232.3 L612.5,228.2 L614.6,225.6 L618.8,225.0 L619.8,221.9 L622.9,219.8 L627.1,218.8 L631.8,216.7 L632.3,212.5 L633.4,207.3 L631.3,204.2 L626.1,202.1 L621.4,202.6 L620.9,199.0 L622.9,195.9 L622.9,192.7 L617.7,191.7 L612.5,191.2 L608.4,188.6 L604.2,185.4 L603.7,180.7 L603.1,180.2 L597.9,180.7 L593.8,180.2 L590.6,181.3 L585.9,178.1 L584.9,174.0 L585.4,169.8Z" fill="none" stroke="#1a1d22" stroke-width="1.45" stroke-linejoin="round"/>
<path d="M1078.0,625.7 L1081.0,630.6 L1082.0,636.5 L1084.9,642.4 L1083.9,648.2 L1085.9,654.1 L1084.9,661.0 L1085.9,664.9 L1081.0,666.9 L1078.0,664.9 L1075.1,667.8 L1071.2,665.9 L1067.3,667.8 L1063.3,665.9 L1059.4,667.5 L1055.5,665.9 L1057.5,661.0 L1055.5,657.1 L1057.5,652.2 L1054.5,649.2 L1052.5,644.3 L1050.2,638.4 L1052.5,637.5 L1055.5,643.3 L1058.4,647.3 L1061.4,652.2 L1066.3,651.2 L1071.2,649.2 L1074.1,644.3 L1076.1,638.4 L1077.1,631.6Z" fill="#222" stroke="#222" stroke-width="1.2" stroke-linejoin="round"/>
<circle cx="1068.2" cy="662.0" r="0.7" fill="#ddd"/>
<circle cx="1073.1" cy="659.0" r="0.7" fill="#ddd"/>
<circle cx="1079.0" cy="654.1" r="0.7" fill="#ddd"/>
<circle cx="1076.1" cy="648.2" r="0.7" fill="#ddd"/>
<circle cx="1080.0" cy="662.0" r="0.7" fill="#ddd"/>
<circle cx="1064.3" cy="658.0" r="0.7" fill="#ddd"/>
<circle cx="1071.2" cy="654.1" r="0.7" fill="#ddd"/>
<circle cx="1081.0" cy="648.2" r="0.7" fill="#ddd"/>
<path d="M1049.6,637.5 L1051.6,643.3 L1054.5,648.2 L1053.5,654.1 L1056.5,660.0 L1054.5,665.9" fill="none" stroke="#1c1c1c" stroke-width="1.1" stroke-linejoin="round"/>
<path d="M1017.3,694.3 L1024.1,693.3 L1025.1,696.3 L1020.2,699.6 L1015.3,699.6Z" fill="#222" stroke="#222" stroke-width="0.8"/>
<path d="M453.7,588.0 L458.6,585.5 L464.5,585.1 L469.4,585.5 L467.5,588.6 L463.5,590.6 L461.6,593.9 L458.6,596.9 L454.7,598.4 L453.7,593.9Z" fill="#222" stroke="#222" stroke-width="1"/>
<path d="M459.6,598.8 L462.0,601.8 L464.5,605.7 L468.4,608.6 L471.0,607.6 L467.5,611.0 L463.5,607.6 L460.6,603.7Z" fill="#222" stroke="#222" stroke-width="0.8"/>
<path d="M498.8,665.5 L501.2,666.5 L500.8,669.4Z" fill="#222" stroke="#222" stroke-width="0.8"/>
<path d="M482.2,638.0 L487.1,636.1 L492.0,637.6 L496.9,635.7 L501.8,634.1 L506.7,632.2 L510.6,630.6 L515.5,627.3 L518.4,623.3 L520.4,618.4" fill="none" stroke="#1c1c1c" stroke-width="2" stroke-linejoin="round"/>
<path d="M575.3,653.7 L577.3,649.8 L580.2,645.9 L581.2,640.4" fill="none" stroke="#1c1c1c" stroke-width="2.2"/>
<path d="M587.1,665.5 L590.6,668.4 L594.9,671.4 L590.0,673.7 L588.6,677.3" fill="none" stroke="#1c1c1c" stroke-width="2"/>
<path d="M1204.1,936.4 L1206.5,943.7 L1205.8,951.8 L1203.5,959.9 L1202.5,966.8 L1203.0,974.8 L1201.2,982.9 L1198.8,989.8 L1197.2,997.9 L1195.6,1005.9 L1194.2,1014.0 L1192.6,1017.5 L1190.3,1012.9 L1189.6,1004.8 L1191.0,996.7 L1192.6,988.7 L1194.9,980.6 L1196.1,973.7 L1195.6,965.6 L1193.8,961.0 L1196.1,954.1 L1198.8,946.0 L1201.2,939.1Z" fill="#d8d8d8" stroke="#1c1c1c" stroke-width="2" stroke-linejoin="round"/>
<path d="M1204.4,939.1 L1203.0,948.3 L1201.2,957.6 L1198.8,964.5 L1199.3,973.7 L1197.5,982.9 L1195.2,992.1 L1193.8,1001.3 L1192.4,1010.6" fill="none" stroke="#fff" stroke-width="1.1" stroke-dasharray="2.5 2"/>
<path d="M1197.2,955.3 L1193.8,962.2 L1196.1,969.1 L1194.9,978.3 L1191.0,989.8 L1190.6,999.0 L1191.5,1008.2 L1193.3,1015.2" fill="none" stroke="#1c1c1c" stroke-width="1.4" stroke-dasharray="3 1.5"/>
<path d="M1205.3,981.8 L1207.1,987.5 L1205.8,994.4 L1204.4,999.0 L1203.0,992.1 L1203.5,985.2Z" fill="#333" stroke="#1c1c1c" stroke-width="0.9"/>
<path d="M1187.3,1031.3 L1191.0,1030.1 L1192.4,1034.7 L1191.5,1040.5 L1188.0,1042.8 L1185.0,1041.0 L1185.7,1035.4Z" fill="#fff" stroke="#1c1c1c" stroke-width="1.1"/>
<ellipse cx="1197.2" cy="1088.0" rx="2.2" ry="2.4" fill="#fff" stroke="#1c1c1c" stroke-width="1.1"/>
<path d="M1214.5,1129.2 L1216.4,1125.8 L1218.7,1128.1 L1217.3,1132.7 L1215.0,1132.7Z" fill="#fff" stroke="#1c1c1c" stroke-width="1.1"/>
<path d="M1219.1,1121.2 L1221.9,1120.0 L1222.8,1125.8 L1221.0,1130.4 L1219.6,1126.2Z" fill="#222" stroke="#1c1c1c" stroke-width="0.9"/>
<path d="M1206.5,1116.1 L1209.0,1118.4 L1211.3,1121.2 L1208.5,1120.7Z" fill="#222" stroke="#1c1c1c" stroke-width="0.9"/>
<circle cx="1222.6" cy="894.2" r="0.9" fill="#222"/>
<circle cx="1214.7" cy="919.5" r="0.9" fill="#222"/>
<circle cx="1211.1" cy="924.8" r="0.9" fill="#222"/>
<circle cx="1229.5" cy="982.9" r="0.9" fill="#222"/>
<circle cx="1181.1" cy="1007.8" r="0.9" fill="#222"/>
<circle cx="1180.4" cy="1027.1" r="0.9" fill="#222"/>
<circle cx="1193.8" cy="1026.7" r="0.9" fill="#222"/>
<circle cx="1199.8" cy="1100.0" r="0.9" fill="#222"/>
<circle cx="1205.3" cy="1112.4" r="0.9" fill="#222"/>
<circle cx="1223.3" cy="1110.1" r="0.9" fill="#222"/>
<circle cx="1223.3" cy="1114.2" r="0.9" fill="#222"/>
<ellipse cx="574.9" cy="1006.1" rx="0.9" ry="1.3" fill="#222" transform="rotate(25 574.9 1006.1)"/>
<ellipse cx="590.9" cy="1002.4" rx="0.9" ry="1.3" fill="#222" transform="rotate(25 590.9 1002.4)"/>
<ellipse cx="599.6" cy="1009.7" rx="0.9" ry="1.3" fill="#222" transform="rotate(25 599.6 1009.7)"/>
<ellipse cx="572.6" cy="1018.8" rx="0.9" ry="1.3" fill="#222" transform="rotate(25 572.6 1018.8)"/>
<ellipse cx="592.1" cy="1019.6" rx="0.9" ry="1.3" fill="#222" transform="rotate(25 592.1 1019.6)"/>
<ellipse cx="576.5" cy="1029.8" rx="0.9" ry="1.3" fill="#222" transform="rotate(25 576.5 1029.8)"/>
<ellipse cx="620.1" cy="1032.4" rx="0.9" ry="1.3" fill="#222" transform="rotate(25 620.1 1032.4)"/>
<ellipse cx="588.3" cy="1041.0" rx="0.9" ry="1.3" fill="#222" transform="rotate(25 588.3 1041.0)"/>
<ellipse cx="578.3" cy="1057.7" rx="0.9" ry="1.3" fill="#222" transform="rotate(25 578.3 1057.7)"/>
<ellipse cx="619.2" cy="1056.9" rx="0.9" ry="1.3" fill="#222" transform="rotate(25 619.2 1056.9)"/>
<circle cx="644.0" cy="923.0" r="0.8" fill="#222"/>
<circle cx="803.0" cy="1080.0" r="0.8" fill="#222"/>
<circle cx="797.0" cy="1080.0" r="0.8" fill="#222"/>
<g id="markers">
<ellipse cx="672.1" cy="380.7" rx="10.9" ry="12.8" fill="#e21212" stroke="#a90f0f" stroke-width="0.6" stroke-dasharray="1.6 1.6"/>
<ellipse cx="755.4" cy="383.0" rx="14.0" ry="14.9" fill="#e21212" stroke="#a90f0f" stroke-width="0.6" stroke-dasharray="1.6 1.6"/>
<ellipse cx="751.3" cy="370.5" rx="11.0" ry="13.7" fill="#e21212" stroke="#a90f0f" stroke-width="0.6" stroke-dasharray="1.6 1.6"/>
<ellipse cx="723.6" cy="424.4" rx="17.8" ry="19.8" fill="#e21212" stroke="#a90f0f" stroke-width="0.6" stroke-dasharray="1.6 1.6"/>
<ellipse cx="731.4" cy="428.0" rx="10.6" ry="12.0" fill="#e21212" stroke="#a90f0f" stroke-width="0.6" stroke-dasharray="1.6 1.6"/>
<ellipse cx="683.5" cy="485.4" rx="12.5" ry="14.4" fill="#e21212" stroke="#a90f0f" stroke-width="0.6" stroke-dasharray="1.6 1.6"/>
<ellipse cx="839.8" cy="487.7" rx="12.2" ry="14.4" fill="#e21212" stroke="#a90f0f" stroke-width="0.6" stroke-dasharray="1.6 1.6"/>
<ellipse cx="820.6" cy="501.0" rx="13.8" ry="15.6" fill="#e21212" stroke="#a90f0f" stroke-width="0.6" stroke-dasharray="1.6 1.6"/>
<ellipse cx="866.1" cy="535.2" rx="8.1" ry="9.1" fill="#e21212" stroke="#a90f0f" stroke-width="0.6" stroke-dasharray="1.6 1.6"/>
<ellipse cx="901.0" cy="539.4" rx="9.9" ry="11.3" fill="#e21212" stroke="#a90f0f" stroke-width="0.6" stroke-dasharray="1.6 1.6"/>
<ellipse cx="966.3" cy="530.3" rx="11.3" ry="12.8" fill="#e21212" stroke="#a90f0f" stroke-width="0.6" stroke-dasharray="1.6 1.6"/>
<ellipse cx="962.0" cy="557.4" rx="13.8" ry="15.6" fill="#e21212" stroke="#a90f0f" stroke-width="0.6" stroke-dasharray="1.6 1.6"/>
<ellipse cx="1022.1" cy="541.8" rx="8.3" ry="9.1" fill="#e21212" stroke="#a90f0f" stroke-width="0.6" stroke-dasharray="1.6 1.6"/>
<ellipse cx="1063.9" cy="632.8" rx="11.3" ry="13.0" fill="#e21212" stroke="#a90f0f" stroke-width="0.6" stroke-dasharray="1.6 1.6"/>
<ellipse cx="1165.6" cy="511.7" rx="9.5" ry="11.1" fill="#e21212" stroke="#a90f0f" stroke-width="0.6" stroke-dasharray="1.6 1.6"/>
<ellipse cx="1225.9" cy="519.8" rx="11.3" ry="13.0" fill="#e21212" stroke="#a90f0f" stroke-width="0.6" stroke-dasharray="1.6 1.6"/>
<ellipse cx="1232.3" cy="556.6" rx="8.1" ry="9.1" fill="#e21212" stroke="#a90f0f" stroke-width="0.6" stroke-dasharray="1.6 1.6"/>
<ellipse cx="586.3" cy="617.5" rx="14.9" ry="16.9" fill="#e21212" stroke="#a90f0f" stroke-width="0.6" stroke-dasharray="1.6 1.6"/>
<ellipse cx="732.8" cy="609.7" rx="11.3" ry="12.8" fill="#e21212" stroke="#a90f0f" stroke-width="0.6" stroke-dasharray="1.6 1.6"/>
<ellipse cx="685.9" cy="628.2" rx="8.1" ry="8.8" fill="#fafa34" stroke="#c9c23a" stroke-width="0.6" stroke-dasharray="1.5 1.5"/>
<ellipse cx="595.4" cy="751.9" rx="11.3" ry="13.0" fill="#e21212" stroke="#a90f0f" stroke-width="0.6" stroke-dasharray="1.6 1.6"/>
<ellipse cx="624.8" cy="770.4" rx="8.1" ry="9.2" fill="#e21212" stroke="#a90f0f" stroke-width="0.6" stroke-dasharray="1.6 1.6"/>
<ellipse cx="989.0" cy="703.8" rx="7.5" ry="8.0" fill="#fafa34" stroke="#c9c23a" stroke-width="0.6" stroke-dasharray="1.5 1.5"/>
<ellipse cx="987.1" cy="710.3" rx="7.8" ry="9.2" fill="#e21212" stroke="#a90f0f" stroke-width="0.6" stroke-dasharray="1.6 1.6"/>
<ellipse cx="765.4" cy="809.2" rx="5.8" ry="6.3" fill="#e21212" stroke="#a90f0f" stroke-width="0.6" stroke-dasharray="1.6 1.6"/>
<ellipse cx="830.6" cy="839.0" rx="12.8" ry="14.4" fill="#e21212" stroke="#a90f0f" stroke-width="0.6" stroke-dasharray="1.6 1.6"/>
<ellipse cx="907.9" cy="798.8" rx="8.1" ry="9.1" fill="#e21212" stroke="#a90f0f" stroke-width="0.6" stroke-dasharray="1.6 1.6"/>
<ellipse cx="738.2" cy="959.1" rx="9.9" ry="10.9" fill="#e21212" stroke="#a90f0f" stroke-width="0.6" stroke-dasharray="1.6 1.6"/>
<ellipse cx="819.3" cy="955.2" rx="8.1" ry="9.1" fill="#e21212" stroke="#a90f0f" stroke-width="0.6" stroke-dasharray="1.6 1.6"/>
<ellipse cx="771.8" cy="1032.9" rx="12.8" ry="14.1" fill="#e21212" stroke="#a90f0f" stroke-width="0.6" stroke-dasharray="1.6 1.6"/>
<ellipse cx="698.2" cy="1062.3" rx="12.8" ry="14.4" fill="#e21212" stroke="#a90f0f" stroke-width="0.6" stroke-dasharray="1.6 1.6"/>
</g>
</g>
<g id="grid-labels" fill="#111">
<text transform="translate(278.23,21.00) scale(0.9246,1.0494)" font-size="20" text-anchor="start" textLength="105.62" lengthAdjust="spacingAndGlyphs">64°0′0.000″</text>
<text transform="translate(278.23,1167.30) scale(0.9246,1.0494)" font-size="20" text-anchor="start" textLength="105.62" lengthAdjust="spacingAndGlyphs">64°0′0.000″</text>
<text transform="translate(518.84,21.00) scale(0.9264,1.0494)" font-size="20" text-anchor="start" textLength="105.62" lengthAdjust="spacingAndGlyphs">72°0′0.000″</text>
<text transform="translate(518.84,1167.30) scale(0.9264,1.0494)" font-size="20" text-anchor="start" textLength="105.62" lengthAdjust="spacingAndGlyphs">72°0′0.000″</text>
<text transform="translate(761.89,21.00) scale(0.9240,1.0494)" font-size="20" text-anchor="start" textLength="105.62" lengthAdjust="spacingAndGlyphs">80°0′0.000″</text>
<text transform="translate(761.89,1167.30) scale(0.9240,1.0494)" font-size="20" text-anchor="start" textLength="105.62" lengthAdjust="spacingAndGlyphs">80°0′0.000″</text>
<text transform="translate(1003.09,21.00) scale(0.9240,1.0494)" font-size="20" text-anchor="start" textLength="105.62" lengthAdjust="spacingAndGlyphs">88°0′0.000″</text>
<text transform="translate(1003.09,1167.30) scale(0.9240,1.0494)" font-size="20" text-anchor="start" textLength="105.62" lengthAdjust="spacingAndGlyphs">88°0′0.000″</text>
<text transform="translate(1245.95,21.00) scale(0.9234,1.0494)" font-size="20" text-anchor="start" textLength="105.62" lengthAdjust="spacingAndGlyphs">96°0′0.000″</text>
<text transform="translate(1245.95,1167.30) scale(0.9234,1.0494)" font-size="20" text-anchor="start" textLength="105.62" lengthAdjust="spacingAndGlyphs">96°0′0.000″</text>
<text transform="translate(3.66,184.70) scale(0.9272,1.0494)" font-size="20" text-anchor="start" textLength="105.62" lengthAdjust="spacingAndGlyphs">36°0′0.000″</text>
<text transform="translate(1432.16,184.70) scale(0.9291,1.0494)" font-size="20" text-anchor="start" textLength="105.62" lengthAdjust="spacingAndGlyphs">36°0′0.000″</text>
<text transform="translate(3.66,388.70) scale(0.9272,1.0494)" font-size="20" text-anchor="start" textLength="105.62" lengthAdjust="spacingAndGlyphs">30°0′0.000″</text>
<text transform="translate(1432.16,388.70) scale(0.9291,1.0494)" font-size="20" text-anchor="start" textLength="105.62" lengthAdjust="spacingAndGlyphs">30°0′0.000″</text>
<text transform="translate(3.66,592.50) scale(0.9272,1.0494)" font-size="20" text-anchor="start" textLength="105.62" lengthAdjust="spacingAndGlyphs">24°0′0.000″</text>
<text transform="translate(1432.16,592.50) scale(0.9291,1.0494)" font-size="20" text-anchor="start" textLength="105.62" lengthAdjust="spacingAndGlyphs">24°0′0.000″</text>
<text transform="translate(3.10,796.50) scale(0.9325,1.0494)" font-size="20" text-anchor="start" textLength="105.62" lengthAdjust="spacingAndGlyphs">18°0′0.000″</text>
<text transform="translate(1431.59,796.50) scale(0.9345,1.0494)" font-size="20" text-anchor="start" textLength="105.62" lengthAdjust="spacingAndGlyphs">18°0′0.000″</text>
<text transform="translate(3.10,1000.50) scale(0.9325,1.0494)" font-size="20" text-anchor="start" textLength="105.62" lengthAdjust="spacingAndGlyphs">12°0′0.000″</text>
<text transform="translate(1431.59,1000.50) scale(0.9345,1.0494)" font-size="20" text-anchor="start" textLength="105.62" lengthAdjust="spacingAndGlyphs">12°0′0.000″</text>
</g>
<g id="title"><text transform="translate(0,126.7) scale(0.82,1)" font-size="49.45" font-weight="bold" style="fill:#000;stroke:none"><tspan x="810.45" font-family="'DejaVu Sans Mono','Liberation Mono',monospace">I</tspan><tspan x="838.58" font-family="'DejaVu Sans','Liberation Sans',sans-serif">N</tspan><tspan x="879.42" font-family="'DejaVu Sans','Liberation Sans',sans-serif">D</tspan><tspan x="917.40" font-family="'DejaVu Sans Mono','Liberation Mono',monospace">I</tspan><tspan x="944.64" font-family="'DejaVu Sans','Liberation Sans',sans-serif">A</tspan></text></g>
<g id="legend-zones">
<text transform="translate(182.06,255.30) scale(1.0391,1.1934)" font-size="20" text-anchor="start" textLength="133.97" lengthAdjust="spacingAndGlyphs">Climatic Zones</text>
<rect x="182.6" y="270.00" width="36.6" height="22.8" rx="1.2" fill="#fdfeff" stroke="#3a3f45" stroke-width="1.3"/>
<text transform="translate(229.66,290.60) scale(1.0355,1.1934)" font-size="20" text-anchor="start" textLength="29.83" lengthAdjust="spacingAndGlyphs">Am</text>
<rect x="182.6" y="307.52" width="36.6" height="22.8" rx="1.2" fill="#f5fafe" stroke="#3a3f45" stroke-width="1.3"/>
<text transform="translate(229.66,328.12) scale(1.0805,1.1934)" font-size="20" text-anchor="start" textLength="26.21" lengthAdjust="spacingAndGlyphs">Aw</text>
<rect x="182.6" y="345.04" width="36.6" height="22.8" rx="1.2" fill="#e6f1fb" stroke="#3a3f45" stroke-width="1.3"/>
<text transform="translate(227.85,365.64) scale(1.1258,1.1934)" font-size="20" text-anchor="start" textLength="34.83" lengthAdjust="spacingAndGlyphs">BSh</text>
<rect x="182.6" y="382.56" width="36.6" height="22.8" rx="1.2" fill="#ddebf8" stroke="#3a3f45" stroke-width="1.3"/>
<text transform="translate(227.93,403.16) scale(1.0781,1.1934)" font-size="20" text-anchor="start" textLength="33.84" lengthAdjust="spacingAndGlyphs">BSk</text>
<rect x="182.6" y="420.08" width="36.6" height="22.8" rx="1.2" fill="#d5e6f6" stroke="#3a3f45" stroke-width="1.3"/>
<text transform="translate(227.82,440.68) scale(1.1430,1.1934)" font-size="20" text-anchor="start" textLength="40.83" lengthAdjust="spacingAndGlyphs">BWh</text>
<rect x="182.6" y="457.60" width="36.6" height="22.8" rx="1.2" fill="#cde0f4" stroke="#3a3f45" stroke-width="1.3"/>
<text transform="translate(227.93,478.20) scale(1.0766,1.1934)" font-size="20" text-anchor="start" textLength="37.48" lengthAdjust="spacingAndGlyphs">Bwk</text>
<rect x="182.6" y="495.12" width="36.6" height="22.8" rx="1.2" fill="#c2d9ef" stroke="#3a3f45" stroke-width="1.3"/>
<text transform="translate(228.73,515.72) scale(1.0709,1.1934)" font-size="20" text-anchor="start" textLength="29.92" lengthAdjust="spacingAndGlyphs">Cfa</text>
<rect x="182.6" y="532.64" width="36.6" height="22.8" rx="1.2" fill="#b3d1ea" stroke="#3a3f45" stroke-width="1.3"/>
<text transform="translate(228.71,553.24) scale(1.0950,1.1934)" font-size="20" text-anchor="start" textLength="28.79" lengthAdjust="spacingAndGlyphs">Cfc</text>
<rect x="182.6" y="570.16" width="36.6" height="22.8" rx="1.2" fill="#a3cae5" stroke="#3a3f45" stroke-width="1.3"/>
<text transform="translate(228.73,590.76) scale(1.0714,1.1934)" font-size="20" text-anchor="start" textLength="32.97" lengthAdjust="spacingAndGlyphs">Csa</text>
<rect x="182.6" y="607.68" width="36.6" height="22.8" rx="1.2" fill="#8fbfe0" stroke="#3a3f45" stroke-width="1.3"/>
<text transform="translate(228.74,628.28) scale(1.0573,1.1934)" font-size="20" text-anchor="start" textLength="33.37" lengthAdjust="spacingAndGlyphs">Csb</text>
<rect x="182.6" y="645.20" width="36.6" height="22.8" rx="1.2" fill="#7db5db" stroke="#3a3f45" stroke-width="1.3"/>
<text transform="translate(228.71,665.80) scale(1.0930,1.1934)" font-size="20" text-anchor="start" textLength="31.84" lengthAdjust="spacingAndGlyphs">Csc</text>
<rect x="182.6" y="682.72" width="36.6" height="22.8" rx="1.2" fill="#6aaad6" stroke="#3a3f45" stroke-width="1.3"/>
<text transform="translate(228.71,703.32) scale(1.0907,1.1934)" font-size="20" text-anchor="start" textLength="38.31" lengthAdjust="spacingAndGlyphs">Cwa</text>
<rect x="182.6" y="720.24" width="36.6" height="22.8" rx="1.2" fill="#589fd1" stroke="#3a3f45" stroke-width="1.3"/>
<text transform="translate(228.71,740.84) scale(1.0865,1.1934)" font-size="20" text-anchor="start" textLength="37.18" lengthAdjust="spacingAndGlyphs">Cwc</text>
<rect x="182.6" y="757.76" width="36.6" height="22.8" rx="1.2" fill="#5096cd" stroke="#3a3f45" stroke-width="1.3"/>
<text transform="translate(227.86,778.36) scale(1.1196,1.1934)" font-size="20" text-anchor="start" textLength="31.21" lengthAdjust="spacingAndGlyphs">Dfa</text>
<rect x="182.6" y="795.28" width="36.6" height="22.8" rx="1.2" fill="#458bc7" stroke="#3a3f45" stroke-width="1.3"/>
<text transform="translate(227.87,815.88) scale(1.1112,1.1934)" font-size="20" text-anchor="start" textLength="34.26" lengthAdjust="spacingAndGlyphs">Dsa</text>
<rect x="182.6" y="832.80" width="36.6" height="22.8" rx="1.2" fill="#3a80c1" stroke="#3a3f45" stroke-width="1.3"/>
<text transform="translate(227.87,853.40) scale(1.1130,1.1934)" font-size="20" text-anchor="start" textLength="34.66" lengthAdjust="spacingAndGlyphs">Dsd</text>
<rect x="182.6" y="870.32" width="36.6" height="22.8" rx="1.2" fill="#2e74ba" stroke="#3a3f45" stroke-width="1.3"/>
<text transform="translate(227.90,890.92) scale(1.0947,1.1934)" font-size="20" text-anchor="start" textLength="39.60" lengthAdjust="spacingAndGlyphs">Dwa</text>
<rect x="182.6" y="907.84" width="36.6" height="22.8" rx="1.2" fill="#2268b2" stroke="#3a3f45" stroke-width="1.3"/>
<text transform="translate(227.90,928.44) scale(1.0955,1.1934)" font-size="20" text-anchor="start" textLength="40.00" lengthAdjust="spacingAndGlyphs">Dwb</text>
<rect x="182.6" y="945.36" width="36.6" height="22.8" rx="1.2" fill="#175aa6" stroke="#3a3f45" stroke-width="1.3"/>
<text transform="translate(227.87,965.96) scale(1.1155,1.1934)" font-size="20" text-anchor="start" textLength="40.00" lengthAdjust="spacingAndGlyphs">Dwd</text>
<rect x="182.6" y="982.88" width="36.6" height="22.8" rx="1.2" fill="#114a90" stroke="#3a3f45" stroke-width="1.3"/>
<text transform="translate(227.77,1003.48) scale(1.1737,1.1934)" font-size="20" text-anchor="start" textLength="21.72" lengthAdjust="spacingAndGlyphs">EF</text>
</g>
<g id="legend-uhi">
<ellipse cx="1266.4" cy="728.3" rx="8.3" ry="9.3" fill="#fbf73c" stroke="#d8d070" stroke-width="0.8"/>
<text transform="translate(1293.26,737.00) scale(1.2007,1.1523)" font-size="20" text-anchor="start" textLength="31.05" lengthAdjust="spacingAndGlyphs">UCI</text>
<text transform="translate(1293.18,775.00) scale(1.2494,1.1523)" font-size="20" text-anchor="start" textLength="32.01" lengthAdjust="spacingAndGlyphs">UHI</text>
<ellipse cx="1266.4" cy="803.6" rx="8.4" ry="9.7" fill="#fb0a0c"/>
<text transform="translate(1293.70,812.30) scale(1.1640,1.1523)" font-size="20" text-anchor="start" textLength="40.81" lengthAdjust="spacingAndGlyphs">0 - 2</text>
<ellipse cx="1266.4" cy="842.2" rx="11.6" ry="13.0" fill="#fb0a0c"/>
<text transform="translate(1293.57,850.90) scale(1.1438,1.1523)" font-size="20" text-anchor="start" textLength="40.81" lengthAdjust="spacingAndGlyphs">2 - 4</text>
<ellipse cx="1266.4" cy="884.8" rx="14.0" ry="15.5" fill="#fb0a0c"/>
<text transform="translate(1294.12,894.30) scale(1.1340,1.1523)" font-size="20" text-anchor="start" textLength="40.81" lengthAdjust="spacingAndGlyphs">4 - 6</text>
<ellipse cx="1266.4" cy="932.9" rx="16.4" ry="18.4" fill="#fb0a0c"/>
<text transform="translate(1293.64,942.20) scale(1.1498,1.1523)" font-size="20" text-anchor="start" textLength="40.81" lengthAdjust="spacingAndGlyphs">6 - 8</text>
<ellipse cx="1266.4" cy="985.7" rx="18.1" ry="20.3" fill="#fb0a0c"/>
<text transform="translate(1293.76,995.00) scale(1.1150,1.1523)" font-size="20" text-anchor="start" textLength="52.25" lengthAdjust="spacingAndGlyphs">8 - 10</text>
</g>
<g id="scalebar">
<rect x="190.2" y="1099.4" width="137.4" height="17.6" fill="#fff" stroke="#111" stroke-width="1.2"/>
<rect x="190.2" y="1099.4" width="69.0" height="17.6" fill="#000"/>
<text transform="translate(183.06,1081.70) scale(1.2022,1.1934)" font-size="20" text-anchor="start" textLength="11.45" lengthAdjust="spacingAndGlyphs">0</text>
<text transform="translate(240.38,1081.70) scale(1.0660,1.1934)" font-size="20" text-anchor="start" textLength="34.34" lengthAdjust="spacingAndGlyphs">250</text>
<text transform="translate(308.57,1081.70) scale(1.0897,1.1934)" font-size="20" text-anchor="start" textLength="68.00" lengthAdjust="spacingAndGlyphs">500 km</text>
</g>
<g id="north-arrow"><defs><pattern id="hatch" width="2" height="2.2" patternUnits="userSpaceOnUse"><rect width="2" height="2.2" fill="#dcdcdc"/><rect width="1.2" height="1" fill="#8c8c8c"/></pattern></defs><polygon points="1275.1,158 1255.0,216.8 1275.1,195.2" fill="url(#hatch)"/><polyline points="1275.1,162 1275.1,195" fill="none" stroke="#aaa" stroke-width="0.8"/><polygon points="1275.1,158.2 1295.3,216.9 1275.1,195.2 1254.9,216.9" fill="none" stroke="#000" stroke-width="2.2" stroke-linejoin="miter" stroke-miterlimit="8"/></g>
</svg>
</body>
</html>
